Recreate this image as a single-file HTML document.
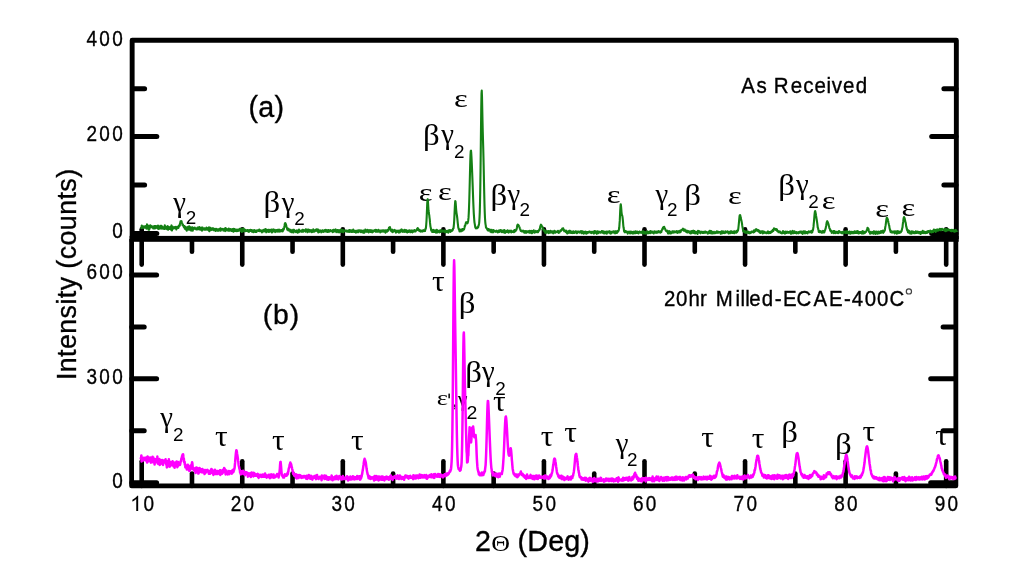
<!DOCTYPE html>
<html><head><meta charset="utf-8"><style>html,body{margin:0;padding:0;background:#fff;overflow:hidden}svg{display:block;filter:blur(0.4px)}</style></head>
<body><svg width="1024" height="574" viewBox="0 0 1024 574">
<rect width="1024" height="574" fill="#fff"/>
<path d="M132.15,239 V40.25 H956.35 V239" fill="none" stroke="#000" stroke-width="4.9" stroke-linejoin="round"/>
<path d="M131.6,239 V485.9 H955.85 V239" fill="none" stroke="#000" stroke-width="4.8" stroke-linejoin="round"/>
<rect x="129.6" y="235.9" width="829.1" height="5.900000000000006" fill="#000"/>
<line x1="132.5" y1="88.65" x2="144.6" y2="88.65" stroke="#000" stroke-width="5" stroke-linecap="round"/>
<line x1="956" y1="88.65" x2="943.9" y2="88.65" stroke="#000" stroke-width="5" stroke-linecap="round"/>
<line x1="132.5" y1="136.6" x2="156.8" y2="136.6" stroke="#000" stroke-width="5" stroke-linecap="round"/>
<line x1="956" y1="136.6" x2="931.7" y2="136.6" stroke="#000" stroke-width="5" stroke-linecap="round"/>
<line x1="132.5" y1="185" x2="144.6" y2="185" stroke="#000" stroke-width="5" stroke-linecap="round"/>
<line x1="956" y1="185" x2="943.9" y2="185" stroke="#000" stroke-width="5" stroke-linecap="round"/>
<line x1="132.5" y1="233.55" x2="156.8" y2="233.55" stroke="#000" stroke-width="5" stroke-linecap="round"/>
<line x1="956" y1="233.55" x2="931.7" y2="233.55" stroke="#000" stroke-width="5" stroke-linecap="round"/>
<line x1="131.8" y1="274.9" x2="156.60000000000002" y2="274.9" stroke="#000" stroke-width="5" stroke-linecap="round"/>
<line x1="955.5" y1="274.9" x2="930.7" y2="274.9" stroke="#000" stroke-width="5" stroke-linecap="round"/>
<line x1="131.8" y1="326.9" x2="144.20000000000002" y2="326.9" stroke="#000" stroke-width="5" stroke-linecap="round"/>
<line x1="955.5" y1="326.9" x2="943.1" y2="326.9" stroke="#000" stroke-width="5" stroke-linecap="round"/>
<line x1="131.8" y1="378.85" x2="156.60000000000002" y2="378.85" stroke="#000" stroke-width="5" stroke-linecap="round"/>
<line x1="955.5" y1="378.85" x2="930.7" y2="378.85" stroke="#000" stroke-width="5" stroke-linecap="round"/>
<line x1="131.8" y1="430.8" x2="144.20000000000002" y2="430.8" stroke="#000" stroke-width="5" stroke-linecap="round"/>
<line x1="955.5" y1="430.8" x2="943.1" y2="430.8" stroke="#000" stroke-width="5" stroke-linecap="round"/>
<line x1="131.8" y1="482.8" x2="156.60000000000002" y2="482.8" stroke="#000" stroke-width="5" stroke-linecap="round"/>
<line x1="955.5" y1="482.8" x2="930.7" y2="482.8" stroke="#000" stroke-width="5" stroke-linecap="round"/>
<line x1="141.7" y1="229.2" x2="141.7" y2="264.6" stroke="#000" stroke-width="4.6" stroke-linecap="round"/>
<line x1="141.7" y1="486" x2="141.7" y2="461.2" stroke="#000" stroke-width="4.6" stroke-linecap="round"/>
<line x1="191.98" y1="240" x2="191.98" y2="251.7" stroke="#000" stroke-width="4.6" stroke-linecap="round"/>
<line x1="191.98" y1="486" x2="191.98" y2="473.5" stroke="#000" stroke-width="4.6" stroke-linecap="round"/>
<line x1="242.26" y1="229.2" x2="242.26" y2="264.6" stroke="#000" stroke-width="4.6" stroke-linecap="round"/>
<line x1="242.26" y1="486" x2="242.26" y2="461.2" stroke="#000" stroke-width="4.6" stroke-linecap="round"/>
<line x1="292.53999999999996" y1="240" x2="292.53999999999996" y2="251.7" stroke="#000" stroke-width="4.6" stroke-linecap="round"/>
<line x1="292.53999999999996" y1="486" x2="292.53999999999996" y2="473.5" stroke="#000" stroke-width="4.6" stroke-linecap="round"/>
<line x1="342.81999999999994" y1="229.2" x2="342.81999999999994" y2="264.6" stroke="#000" stroke-width="4.6" stroke-linecap="round"/>
<line x1="342.81999999999994" y1="486" x2="342.81999999999994" y2="461.2" stroke="#000" stroke-width="4.6" stroke-linecap="round"/>
<line x1="393.09999999999997" y1="240" x2="393.09999999999997" y2="251.7" stroke="#000" stroke-width="4.6" stroke-linecap="round"/>
<line x1="393.09999999999997" y1="486" x2="393.09999999999997" y2="473.5" stroke="#000" stroke-width="4.6" stroke-linecap="round"/>
<line x1="443.37999999999994" y1="229.2" x2="443.37999999999994" y2="264.6" stroke="#000" stroke-width="4.6" stroke-linecap="round"/>
<line x1="443.37999999999994" y1="486" x2="443.37999999999994" y2="461.2" stroke="#000" stroke-width="4.6" stroke-linecap="round"/>
<line x1="493.65999999999997" y1="240" x2="493.65999999999997" y2="251.7" stroke="#000" stroke-width="4.6" stroke-linecap="round"/>
<line x1="493.65999999999997" y1="486" x2="493.65999999999997" y2="473.5" stroke="#000" stroke-width="4.6" stroke-linecap="round"/>
<line x1="543.9399999999999" y1="229.2" x2="543.9399999999999" y2="264.6" stroke="#000" stroke-width="4.6" stroke-linecap="round"/>
<line x1="543.9399999999999" y1="486" x2="543.9399999999999" y2="461.2" stroke="#000" stroke-width="4.6" stroke-linecap="round"/>
<line x1="594.22" y1="240" x2="594.22" y2="251.7" stroke="#000" stroke-width="4.6" stroke-linecap="round"/>
<line x1="594.22" y1="486" x2="594.22" y2="473.5" stroke="#000" stroke-width="4.6" stroke-linecap="round"/>
<line x1="644.5" y1="229.2" x2="644.5" y2="264.6" stroke="#000" stroke-width="4.6" stroke-linecap="round"/>
<line x1="644.5" y1="486" x2="644.5" y2="461.2" stroke="#000" stroke-width="4.6" stroke-linecap="round"/>
<line x1="694.78" y1="240" x2="694.78" y2="251.7" stroke="#000" stroke-width="4.6" stroke-linecap="round"/>
<line x1="694.78" y1="486" x2="694.78" y2="473.5" stroke="#000" stroke-width="4.6" stroke-linecap="round"/>
<line x1="745.06" y1="229.2" x2="745.06" y2="264.6" stroke="#000" stroke-width="4.6" stroke-linecap="round"/>
<line x1="745.06" y1="486" x2="745.06" y2="461.2" stroke="#000" stroke-width="4.6" stroke-linecap="round"/>
<line x1="795.3399999999999" y1="240" x2="795.3399999999999" y2="251.7" stroke="#000" stroke-width="4.6" stroke-linecap="round"/>
<line x1="795.3399999999999" y1="486" x2="795.3399999999999" y2="473.5" stroke="#000" stroke-width="4.6" stroke-linecap="round"/>
<line x1="845.6199999999999" y1="229.2" x2="845.6199999999999" y2="264.6" stroke="#000" stroke-width="4.6" stroke-linecap="round"/>
<line x1="845.6199999999999" y1="486" x2="845.6199999999999" y2="461.2" stroke="#000" stroke-width="4.6" stroke-linecap="round"/>
<line x1="895.8999999999999" y1="240" x2="895.8999999999999" y2="251.7" stroke="#000" stroke-width="4.6" stroke-linecap="round"/>
<line x1="895.8999999999999" y1="486" x2="895.8999999999999" y2="473.5" stroke="#000" stroke-width="4.6" stroke-linecap="round"/>
<line x1="946.1799999999998" y1="229.2" x2="946.1799999999998" y2="264.6" stroke="#000" stroke-width="4.6" stroke-linecap="round"/>
<line x1="946.1799999999998" y1="486" x2="946.1799999999998" y2="461.2" stroke="#000" stroke-width="4.6" stroke-linecap="round"/>
<text transform="translate(86.40,45.60) scale(0.87,1)" font-family="Liberation Sans" font-size="21.8" letter-spacing="2.7" stroke="#000" stroke-width="0.35">400</text>
<text transform="translate(86.40,141.25) scale(0.87,1)" font-family="Liberation Sans" font-size="21.8" letter-spacing="2.7" stroke="#000" stroke-width="0.35">200</text>
<text transform="translate(112.19,237.75) scale(0.87,1)" font-family="Liberation Sans" font-size="21.8" letter-spacing="2.7" stroke="#000" stroke-width="0.35">0</text>
<text transform="translate(86.40,279.25) scale(0.87,1)" font-family="Liberation Sans" font-size="21.8" letter-spacing="2.7" stroke="#000" stroke-width="0.35">600</text>
<text transform="translate(86.40,383.90) scale(0.87,1)" font-family="Liberation Sans" font-size="21.8" letter-spacing="2.7" stroke="#000" stroke-width="0.35">300</text>
<text transform="translate(112.19,488.25) scale(0.87,1)" font-family="Liberation Sans" font-size="21.8" letter-spacing="2.7" stroke="#000" stroke-width="0.35">0</text>
<text transform="translate(230.73,510.90) scale(0.87,1)" font-family="Liberation Sans" font-size="21.8" letter-spacing="2.7" stroke="#000" stroke-width="0.35">20</text>
<text transform="translate(331.41,510.90) scale(0.87,1)" font-family="Liberation Sans" font-size="21.8" letter-spacing="2.7" stroke="#000" stroke-width="0.35">30</text>
<text transform="translate(432.11,510.90) scale(0.87,1)" font-family="Liberation Sans" font-size="21.8" letter-spacing="2.7" stroke="#000" stroke-width="0.35">40</text>
<text transform="translate(532.51,510.90) scale(0.87,1)" font-family="Liberation Sans" font-size="21.8" letter-spacing="2.7" stroke="#000" stroke-width="0.35">50</text>
<text transform="translate(632.97,510.90) scale(0.87,1)" font-family="Liberation Sans" font-size="21.8" letter-spacing="2.7" stroke="#000" stroke-width="0.35">60</text>
<text transform="translate(733.52,510.90) scale(0.87,1)" font-family="Liberation Sans" font-size="21.8" letter-spacing="2.7" stroke="#000" stroke-width="0.35">70</text>
<text transform="translate(834.16,510.90) scale(0.87,1)" font-family="Liberation Sans" font-size="21.8" letter-spacing="2.7" stroke="#000" stroke-width="0.35">80</text>
<text transform="translate(934.68,510.90) scale(0.87,1)" font-family="Liberation Sans" font-size="21.8" letter-spacing="2.7" stroke="#000" stroke-width="0.35">90</text>
<path transform="translate(130.01,510.90) scale(0.0107,-0.01064)" d="M763,0 H583 V1110 C520,1052 437,994 333,936 C270,901 223,883 223,883 V1050 C330,1099 424,1158 504,1228 C584,1297 641,1365 674,1430 H763 Z" fill="#000"/>
<text transform="translate(143.56,510.90) scale(0.87,1)" font-family="Liberation Sans" font-size="21.8" letter-spacing="2.7" stroke="#000" stroke-width="0.35">0</text>
<text transform="translate(76.3,380.1) rotate(-90)" font-family="Liberation Sans" font-size="26.8" letter-spacing="0.42" stroke="#000" stroke-width="0.35">Intensity (counts)</text>
<text x="474.97" y="551.00" font-family="Liberation Sans" font-size="28.60" letter-spacing="0.00" stroke="#000" stroke-width="0.35" >2</text>
<g transform="translate(492.2,551.3) scale(1.12,1)"><text x="-0.95" y="0" font-family="Liberation Serif" font-size="23.2">&#920;</text></g>
<text x="517.62" y="551.33" font-family="Liberation Sans" font-size="28.75" letter-spacing="0.09" stroke="#000" stroke-width="0.35" >(Deg)</text>
<text x="248.42" y="116.77" font-family="Liberation Sans" font-size="28.66" letter-spacing="0.31" stroke="#000" stroke-width="0.35" >(a)</text>
<text x="262.84" y="323.93" font-family="Liberation Sans" font-size="28.34" letter-spacing="0.84" stroke="#000" stroke-width="0.35" >(b)</text>
<text transform="scale(0.97,1)" x="764.29 779.93 797.75 815.18 827.97 839.61 852.19 857.45 869.20 882.20" y="92.95" font-family="Liberation Sans" font-size="21.20" stroke="#000" stroke-width="0.35">AsReceived</text>
<text transform="scale(0.95,1)" x="699.02 711.58 724.83 736.89 753.39 774.14 779.60 784.55 788.77 801.94 815.47 824.13 838.38 856.38 872.76 888.31 896.56 910.32 923.16 936.38" y="306.50" font-family="Liberation Sans" font-size="21.50" stroke="#000" stroke-width="0.35">20hrMilled-ECAE-400C</text>
<circle cx="908.9" cy="291.4" r="2.6" fill="none" stroke="#444" stroke-width="1.2"/>
<g transform="translate(173.34,211.50) scale(0.4797,0.4812)"><text font-family="Liberation Serif" font-size="60">γ</text></g>
<g transform="translate(185.85,224.25) scale(0.3146,0.3151)"><text font-family="Liberation Sans" font-size="60">2</text></g>
<g transform="translate(263.48,212.08) scale(0.5475,0.4907)"><text font-family="Liberation Serif" font-size="60">β</text></g>
<g transform="translate(281.64,211.65) scale(0.4797,0.4812)"><text font-family="Liberation Serif" font-size="60">γ</text></g>
<g transform="translate(294.20,224.95) scale(0.3146,0.3151)"><text font-family="Liberation Sans" font-size="60">2</text></g>
<g transform="translate(418.79,201.20) scale(0.5437,0.4297)"><text font-family="Liberation Serif" font-size="60">ε</text></g>
<g transform="translate(437.99,200.25) scale(0.5437,0.4297)"><text font-family="Liberation Serif" font-size="60">ε</text></g>
<g transform="translate(423.03,144.88) scale(0.5475,0.4907)"><text font-family="Liberation Serif" font-size="60">β</text></g>
<g transform="translate(441.19,144.25) scale(0.4797,0.4812)"><text font-family="Liberation Serif" font-size="60">γ</text></g>
<g transform="translate(453.95,157.95) scale(0.3146,0.3151)"><text font-family="Liberation Sans" font-size="60">2</text></g>
<g transform="translate(453.89,106.85) scale(0.5437,0.4297)"><text font-family="Liberation Serif" font-size="60">ε</text></g>
<g transform="translate(490.58,204.68) scale(0.5475,0.4907)"><text font-family="Liberation Serif" font-size="60">β</text></g>
<g transform="translate(507.59,204.15) scale(0.4797,0.4812)"><text font-family="Liberation Serif" font-size="60">γ</text></g>
<g transform="translate(519.40,215.80) scale(0.3146,0.3151)"><text font-family="Liberation Sans" font-size="60">2</text></g>
<g transform="translate(606.79,202.90) scale(0.5437,0.4297)"><text font-family="Liberation Serif" font-size="60">ε</text></g>
<g transform="translate(655.59,203.75) scale(0.4797,0.4812)"><text font-family="Liberation Serif" font-size="60">γ</text></g>
<g transform="translate(667.10,215.95) scale(0.3146,0.3151)"><text font-family="Liberation Sans" font-size="60">2</text></g>
<g transform="translate(684.28,204.53) scale(0.5475,0.4907)"><text font-family="Liberation Serif" font-size="60">β</text></g>
<g transform="translate(727.99,203.60) scale(0.5437,0.4297)"><text font-family="Liberation Serif" font-size="60">ε</text></g>
<g transform="translate(778.13,194.73) scale(0.5475,0.4907)"><text font-family="Liberation Serif" font-size="60">β</text></g>
<g transform="translate(795.89,194.35) scale(0.4797,0.4812)"><text font-family="Liberation Serif" font-size="60">γ</text></g>
<g transform="translate(808.20,207.85) scale(0.3146,0.3151)"><text font-family="Liberation Sans" font-size="60">2</text></g>
<g transform="translate(821.64,208.55) scale(0.5437,0.4297)"><text font-family="Liberation Serif" font-size="60">ε</text></g>
<g transform="translate(875.29,217.10) scale(0.5437,0.4297)"><text font-family="Liberation Serif" font-size="60">ε</text></g>
<g transform="translate(901.59,215.50) scale(0.5437,0.4297)"><text font-family="Liberation Serif" font-size="60">ε</text></g>
<g transform="translate(160.29,427.15) scale(0.4797,0.4812)"><text font-family="Liberation Serif" font-size="60">γ</text></g>
<g transform="translate(172.95,441.00) scale(0.3146,0.3151)"><text font-family="Liberation Sans" font-size="60">2</text></g>
<g transform="translate(215.06,446.16) scale(0.5262,0.4871)"><text font-family="Liberation Serif" font-size="60">τ</text></g>
<g transform="translate(272.01,450.36) scale(0.5262,0.4871)"><text font-family="Liberation Serif" font-size="60">τ</text></g>
<g transform="translate(351.06,450.36) scale(0.5262,0.4871)"><text font-family="Liberation Serif" font-size="60">τ</text></g>
<g transform="translate(431.91,291.06) scale(0.5262,0.4871)"><text font-family="Liberation Serif" font-size="60">τ</text></g>
<g transform="translate(458.73,312.93) scale(0.5475,0.4907)"><text font-family="Liberation Serif" font-size="60">β</text></g>
<g transform="translate(465.28,381.63) scale(0.5475,0.4907)"><text font-family="Liberation Serif" font-size="60">β</text></g>
<g transform="translate(481.94,381.00) scale(0.4797,0.4812)"><text font-family="Liberation Serif" font-size="60">γ</text></g>
<g transform="translate(495.30,394.70) scale(0.3146,0.3151)"><text font-family="Liberation Sans" font-size="60">2</text></g>
<g transform="translate(492.91,411.16) scale(0.5262,0.4871)"><text font-family="Liberation Serif" font-size="60">τ</text></g>
<g transform="translate(540.81,446.16) scale(0.5262,0.4871)"><text font-family="Liberation Serif" font-size="60">τ</text></g>
<g transform="translate(564.31,441.81) scale(0.5262,0.4871)"><text font-family="Liberation Serif" font-size="60">τ</text></g>
<g transform="translate(615.64,453.35) scale(0.4797,0.4812)"><text font-family="Liberation Serif" font-size="60">γ</text></g>
<g transform="translate(627.00,466.20) scale(0.3146,0.3151)"><text font-family="Liberation Sans" font-size="60">2</text></g>
<g transform="translate(701.16,446.91) scale(0.5262,0.4871)"><text font-family="Liberation Serif" font-size="60">τ</text></g>
<g transform="translate(751.76,448.11) scale(0.5262,0.4871)"><text font-family="Liberation Serif" font-size="60">τ</text></g>
<g transform="translate(781.18,442.13) scale(0.5475,0.4907)"><text font-family="Liberation Serif" font-size="60">β</text></g>
<g transform="translate(834.93,453.53) scale(0.5475,0.4907)"><text font-family="Liberation Serif" font-size="60">β</text></g>
<g transform="translate(862.56,441.46) scale(0.5262,0.4871)"><text font-family="Liberation Serif" font-size="60">τ</text></g>
<g transform="translate(935.16,444.61) scale(0.5262,0.4871)"><text font-family="Liberation Serif" font-size="60">τ</text></g>
<g transform="translate(436.77,405.40) scale(0.4444,0.3431)"><text font-family="Liberation Serif" font-size="60">ε</text></g>
<g transform="translate(457.73,405.67) scale(0.3727,0.3622)"><text font-family="Liberation Serif" font-size="60">γ</text></g>
<g transform="translate(466.62,419.20) scale(0.3256,0.3127)"><text font-family="Liberation Sans" font-size="60">2</text></g>
<rect x="448.4" y="393.6" width="1.5" height="4.7" fill="#000"/>
<path d="M454.2,404.6 h1.6 v2.2 q0,1.8 -1.5,2.6 l-0.4,-0.5 q0.9,-0.6 0.9,-1.9 h-0.6z" fill="#000"/>
<polyline points="141.00,227.4 141.25,228.0 141.50,227.4 141.75,225.5 142.00,228.1 142.25,227.6 142.50,226.4 142.75,227.7 143.00,227.5 143.25,227.4 143.50,227.1 143.75,227.7 144.00,226.2 144.25,226.9 144.50,226.5 144.75,227.8 145.00,227.1 145.25,226.7 145.50,226.2 145.75,226.8 146.00,227.1 146.25,226.8 146.50,228.6 146.75,228.3 147.00,224.4 147.25,224.9 147.50,226.9 147.75,226.6 148.00,227.4 148.25,227.4 148.50,229.7 148.75,225.9 149.00,226.7 149.25,229.6 149.50,227.9 149.75,228.0 150.00,226.6 150.25,225.3 150.50,227.4 150.75,227.3 151.00,225.8 151.25,226.4 151.50,227.2 151.75,226.2 152.00,227.2 152.25,227.4 152.50,227.3 152.75,226.7 153.00,228.0 153.25,228.4 153.50,227.7 153.75,226.4 154.00,228.2 154.25,226.8 154.50,228.4 154.75,226.1 155.00,228.5 155.25,227.4 155.50,226.0 155.75,227.1 156.00,227.5 156.25,227.8 156.50,226.3 156.75,226.2 157.00,227.7 157.25,226.9 157.50,227.8 157.75,228.4 158.00,225.6 158.25,227.8 158.50,228.9 158.75,227.2 159.00,226.6 159.25,228.4 159.50,227.9 159.75,228.6 160.00,227.2 160.25,225.9 160.50,227.5 160.75,227.1 161.00,228.5 161.25,227.9 161.50,225.8 161.75,226.3 162.00,228.7 162.25,228.4 162.50,226.9 162.75,227.7 163.00,228.2 163.25,228.2 163.50,228.7 163.75,228.0 164.00,227.6 164.25,227.4 164.50,229.0 164.75,225.2 165.00,227.6 165.25,227.8 165.50,226.2 165.75,228.2 166.00,227.1 166.25,228.8 166.50,227.7 166.75,228.6 167.00,229.2 167.25,228.3 167.50,226.9 167.75,226.2 168.00,229.8 168.25,227.8 168.50,227.1 168.75,228.1 169.00,227.7 169.25,228.9 169.50,228.0 169.75,228.0 170.00,227.1 170.25,228.5 170.50,226.8 170.75,228.7 171.00,229.7 171.25,226.3 171.50,225.4 171.75,228.7 172.00,230.5 172.25,226.9 172.50,226.6 172.75,228.6 173.00,227.1 173.25,227.4 173.50,227.6 173.75,228.6 174.00,227.6 174.25,228.3 174.50,227.8 174.75,227.1 175.00,227.6 175.25,227.0 175.50,228.0 175.75,226.8 176.00,226.8 176.25,229.5 176.50,227.9 176.75,227.8 177.00,228.4 177.25,227.4 177.50,227.5 177.75,228.1 178.00,227.8 178.25,226.2 178.50,227.9 178.75,226.3 179.00,225.5 179.25,225.2 179.50,225.1 179.75,225.8 180.00,223.3 180.25,223.4 180.50,221.4 180.75,222.0 181.00,222.0 181.25,221.3 181.50,221.2 181.75,222.0 182.00,222.8 182.25,223.4 182.50,225.0 182.75,224.7 183.00,224.8 183.25,225.7 183.50,226.3 183.75,226.9 184.00,227.1 184.25,227.6 184.50,226.1 184.75,228.6 185.00,227.4 185.25,226.9 185.50,228.8 185.75,229.5 186.00,228.7 186.25,228.4 186.50,227.4 186.75,230.7 187.00,229.3 187.25,227.2 187.50,227.6 187.75,228.5 188.00,226.9 188.25,228.6 188.50,228.0 188.75,229.7 189.00,229.5 189.25,226.2 189.50,228.6 189.75,226.9 190.00,229.7 190.25,228.8 190.50,229.2 190.75,227.5 191.00,230.5 191.25,230.7 191.50,227.6 191.75,229.0 192.00,228.0 192.25,228.7 192.50,227.4 192.75,230.6 193.00,227.7 193.25,228.4 193.50,229.2 193.75,228.1 194.00,228.5 194.25,228.2 194.50,228.6 194.75,227.6 195.00,228.4 195.25,228.6 195.50,228.5 195.75,228.9 196.00,228.5 196.25,229.6 196.50,228.5 196.75,228.7 197.00,228.2 197.25,228.4 197.50,227.7 197.75,229.4 198.00,227.8 198.25,228.2 198.50,229.3 198.75,229.3 199.00,228.6 199.25,227.0 199.50,229.4 199.75,229.2 200.00,227.6 200.25,229.7 200.50,228.3 200.75,227.9 201.00,229.1 201.25,228.9 201.50,229.2 201.75,227.5 202.00,230.7 202.25,228.5 202.50,227.6 202.75,229.6 203.00,228.7 203.25,229.4 203.50,228.8 203.75,229.0 204.00,229.3 204.25,228.4 204.50,229.7 204.75,228.7 205.00,228.4 205.25,229.2 205.50,229.6 205.75,229.0 206.00,228.4 206.25,229.7 206.50,227.6 206.75,228.3 207.00,229.2 207.25,228.0 207.50,229.3 207.75,229.2 208.00,230.0 208.25,228.4 208.50,228.7 208.75,229.6 209.00,227.3 209.25,231.3 209.50,228.7 209.75,228.7 210.00,230.1 210.25,229.3 210.50,227.8 210.75,229.9 211.00,230.1 211.25,229.0 211.50,229.1 211.75,229.8 212.00,228.6 212.25,229.8 212.50,229.6 212.75,228.8 213.00,228.2 213.25,229.2 213.50,228.7 213.75,230.3 214.00,229.6 214.25,230.1 214.50,229.6 214.75,229.7 215.00,228.8 215.25,230.0 215.50,231.0 215.75,229.2 216.00,229.0 216.25,229.4 216.50,229.1 216.75,228.9 217.00,229.6 217.25,229.3 217.50,230.7 217.75,229.6 218.00,229.8 218.25,230.3 218.50,229.3 218.75,230.8 219.00,229.1 219.25,229.0 219.50,229.3 219.75,229.5 220.00,228.5 220.25,229.6 220.50,228.3 220.75,230.8 221.00,229.6 221.25,229.2 221.50,229.0 221.75,229.4 222.00,229.5 222.25,228.9 222.50,229.0 222.75,229.6 223.00,229.3 223.25,230.5 223.50,230.6 223.75,229.8 224.00,230.1 224.25,228.7 224.50,230.3 224.75,229.8 225.00,230.2 225.25,231.1 225.50,228.0 225.75,230.0 226.00,229.0 226.25,230.3 226.50,228.8 226.75,229.5 227.00,230.0 227.25,230.4 227.50,229.9 227.75,229.3 228.00,229.5 228.25,230.6 228.50,229.9 228.75,228.6 229.00,230.6 229.25,230.3 229.50,230.6 229.75,229.7 230.00,230.6 230.25,229.1 230.50,230.4 230.75,229.6 231.00,230.5 231.25,230.8 231.50,229.4 231.75,230.0 232.00,230.0 232.25,231.0 232.50,230.6 232.75,229.1 233.00,230.4 233.25,230.6 233.50,231.7 233.75,228.8 234.00,229.7 234.25,231.1 234.50,229.0 234.75,229.2 235.00,230.5 235.25,230.9 235.50,229.6 235.75,230.6 236.00,230.2 236.25,231.3 236.50,230.2 236.75,230.9 237.00,229.5 237.25,230.0 237.50,230.1 237.75,231.1 238.00,230.7 238.25,229.6 238.50,230.8 238.75,230.8 239.00,230.2 239.25,230.0 239.50,230.1 239.75,228.9 240.00,230.4 240.25,230.5 240.50,229.6 240.75,230.9 241.00,229.2 241.25,229.9 241.50,230.0 241.75,231.9 242.00,229.1 242.25,230.8 242.50,231.1 242.75,230.7 243.00,231.3 243.25,229.6 243.50,228.6 243.75,231.0 244.00,229.5 244.25,230.2 244.50,229.5 244.75,231.2 245.00,231.1 245.25,229.9 245.50,231.1 245.75,230.6 246.00,230.4 246.25,230.5 246.50,230.3 246.75,231.0 247.00,230.7 247.25,230.2 247.50,231.3 247.75,230.0 248.00,230.7 248.25,230.9 248.50,231.7 248.75,230.2 249.00,231.9 249.25,230.7 249.50,230.4 249.75,230.1 250.00,231.0 250.25,230.6 250.50,229.7 250.75,229.7 251.00,230.2 251.25,230.1 251.50,231.4 251.75,231.7 252.00,231.3 252.25,230.9 252.50,230.3 252.75,230.7 253.00,231.3 253.25,232.2 253.50,231.3 253.75,230.4 254.00,230.7 254.25,230.3 254.50,230.0 254.75,230.5 255.00,230.8 255.25,232.0 255.50,230.7 255.75,231.7 256.00,232.0 256.25,230.7 256.50,231.9 256.75,231.2 257.00,230.3 257.25,230.8 257.50,230.7 257.75,230.5 258.00,230.5 258.25,230.8 258.50,231.0 258.75,230.0 259.00,230.7 259.25,229.5 259.50,230.9 259.75,231.1 260.00,230.8 260.25,230.9 260.50,231.1 260.75,230.2 261.00,230.5 261.25,231.1 261.50,231.4 261.75,231.0 262.00,232.4 262.25,230.6 262.50,231.4 262.75,231.6 263.00,230.6 263.25,230.1 263.50,229.8 263.75,230.8 264.00,231.5 264.25,230.9 264.50,230.8 264.75,230.4 265.00,231.1 265.25,229.1 265.50,230.9 265.75,230.7 266.00,229.7 266.25,232.3 266.50,229.7 266.75,229.9 267.00,229.8 267.25,231.6 267.50,230.1 267.75,231.2 268.00,231.2 268.25,230.9 268.50,229.7 268.75,230.3 269.00,232.0 269.25,229.8 269.50,230.1 269.75,230.6 270.00,231.3 270.25,230.9 270.50,231.3 270.75,229.9 271.00,231.4 271.25,231.2 271.50,229.6 271.75,231.9 272.00,232.5 272.25,230.2 272.50,230.8 272.75,231.8 273.00,229.7 273.25,229.3 273.50,229.8 273.75,230.3 274.00,230.3 274.25,231.2 274.50,231.0 274.75,229.8 275.00,231.2 275.25,232.1 275.50,231.6 275.75,231.5 276.00,230.8 276.25,231.5 276.50,230.0 276.75,231.3 277.00,230.7 277.25,231.6 277.50,231.1 277.75,229.9 278.00,230.8 278.25,231.6 278.50,229.9 278.75,230.3 279.00,230.2 279.25,229.6 279.50,231.4 279.75,231.7 280.00,231.3 280.25,230.9 280.50,230.6 280.75,230.8 281.00,230.1 281.25,231.2 281.50,231.3 281.75,231.2 282.00,230.1 282.25,230.5 282.50,230.2 282.75,231.4 283.00,230.1 283.25,228.5 283.50,229.4 283.75,229.6 284.00,228.1 284.25,227.3 284.50,225.9 284.75,224.1 285.00,223.3 285.25,223.0 285.50,223.3 285.75,223.9 286.00,224.9 286.25,225.5 286.50,227.1 286.75,227.5 287.00,228.1 287.25,229.6 287.50,229.1 287.75,228.5 288.00,229.5 288.25,230.4 288.50,228.9 288.75,230.3 289.00,230.4 289.25,229.6 289.50,229.6 289.75,230.4 290.00,230.3 290.25,231.6 290.50,231.0 290.75,229.7 291.00,230.2 291.25,231.3 291.50,232.2 291.75,231.1 292.00,231.1 292.25,232.2 292.50,230.8 292.75,230.6 293.00,229.9 293.25,230.5 293.50,232.4 293.75,229.9 294.00,230.9 294.25,229.9 294.50,231.0 294.75,231.5 295.00,230.7 295.25,231.4 295.50,231.4 295.75,231.2 296.00,232.2 296.25,231.5 296.50,230.7 296.75,230.4 297.00,230.3 297.25,231.3 297.50,230.7 297.75,232.6 298.00,232.3 298.25,230.8 298.50,230.7 298.75,232.2 299.00,229.6 299.25,230.6 299.50,231.7 299.75,230.3 300.00,230.6 300.25,230.7 300.50,231.5 300.75,231.1 301.00,231.3 301.25,231.4 301.50,231.0 301.75,231.8 302.00,230.5 302.25,230.0 302.50,229.7 302.75,229.8 303.00,230.6 303.25,231.7 303.50,231.1 303.75,230.6 304.00,230.2 304.25,230.6 304.50,230.7 304.75,230.6 305.00,230.0 305.25,230.7 305.50,231.7 305.75,229.4 306.00,230.8 306.25,229.5 306.50,231.1 306.75,230.5 307.00,229.5 307.25,231.1 307.50,232.3 307.75,231.1 308.00,231.8 308.25,231.0 308.50,229.5 308.75,231.4 309.00,230.7 309.25,230.0 309.50,231.6 309.75,231.2 310.00,230.6 310.25,231.6 310.50,230.4 310.75,231.5 311.00,230.3 311.25,231.4 311.50,230.2 311.75,232.1 312.00,231.2 312.25,232.0 312.50,230.4 312.75,230.7 313.00,231.6 313.25,229.4 313.50,230.3 313.75,231.8 314.00,231.4 314.25,231.7 314.50,230.8 314.75,231.4 315.00,230.5 315.25,230.0 315.50,229.8 315.75,230.6 316.00,230.6 316.25,230.6 316.50,229.4 316.75,229.6 317.00,230.6 317.25,231.2 317.50,230.6 317.75,230.4 318.00,229.4 318.25,232.5 318.50,230.2 318.75,232.2 319.00,232.1 319.25,231.2 319.50,230.6 319.75,231.1 320.00,230.2 320.25,231.2 320.50,231.0 320.75,231.4 321.00,231.7 321.25,232.3 321.50,230.8 321.75,231.8 322.00,230.5 322.25,230.4 322.50,230.6 322.75,230.3 323.00,231.7 323.25,231.7 323.50,231.9 323.75,231.0 324.00,231.2 324.25,230.6 324.50,230.2 324.75,231.4 325.00,231.2 325.25,230.3 325.50,231.5 325.75,229.8 326.00,230.9 326.25,230.6 326.50,230.7 326.75,230.3 327.00,231.7 327.25,231.5 327.50,231.9 327.75,231.1 328.00,230.1 328.25,230.8 328.50,230.2 328.75,231.4 329.00,231.9 329.25,231.3 329.50,230.6 329.75,230.8 330.00,231.2 330.25,230.0 330.50,231.2 330.75,231.2 331.00,230.7 331.25,230.8 331.50,231.2 331.75,230.5 332.00,230.5 332.25,231.6 332.50,231.2 332.75,232.2 333.00,230.3 333.25,229.8 333.50,231.7 333.75,231.7 334.00,230.5 334.25,230.0 334.50,231.0 334.75,229.8 335.00,230.8 335.25,229.5 335.50,230.9 335.75,229.5 336.00,230.9 336.25,232.1 336.50,230.9 336.75,231.6 337.00,230.6 337.25,230.4 337.50,230.0 337.75,231.8 338.00,231.0 338.25,232.2 338.50,230.2 338.75,230.9 339.00,231.1 339.25,232.0 339.50,232.3 339.75,230.6 340.00,230.2 340.25,229.8 340.50,232.0 340.75,231.0 341.00,230.6 341.25,231.0 341.50,229.5 341.75,229.8 342.00,231.7 342.25,231.3 342.50,231.2 342.75,230.3 343.00,231.5 343.25,232.3 343.50,230.2 343.75,231.1 344.00,230.7 344.25,231.3 344.50,231.1 344.75,230.9 345.00,230.4 345.25,231.0 345.50,230.6 345.75,230.9 346.00,231.0 346.25,231.5 346.50,230.6 346.75,230.8 347.00,231.8 347.25,230.9 347.50,230.9 347.75,231.7 348.00,231.2 348.25,231.1 348.50,231.2 348.75,230.2 349.00,231.4 349.25,232.0 349.50,231.5 349.75,230.0 350.00,231.3 350.25,230.4 350.50,230.9 350.75,231.2 351.00,230.2 351.25,232.0 351.50,231.0 351.75,231.6 352.00,231.5 352.25,232.0 352.50,231.9 352.75,230.0 353.00,231.1 353.25,229.6 353.50,230.8 353.75,231.6 354.00,231.7 354.25,232.0 354.50,230.8 354.75,231.3 355.00,231.2 355.25,232.0 355.50,232.2 355.75,230.8 356.00,232.7 356.25,231.1 356.50,230.8 356.75,231.5 357.00,231.6 357.25,231.5 357.50,230.6 357.75,232.1 358.00,231.1 358.25,232.2 358.50,232.1 358.75,230.2 359.00,230.4 359.25,230.4 359.50,231.3 359.75,231.1 360.00,231.3 360.25,230.5 360.50,231.4 360.75,232.1 361.00,230.2 361.25,231.0 361.50,231.3 361.75,231.0 362.00,231.0 362.25,232.3 362.50,232.0 362.75,231.7 363.00,230.6 363.25,232.7 363.50,231.4 363.75,230.7 364.00,230.9 364.25,230.8 364.50,232.6 364.75,231.3 365.00,231.2 365.25,229.6 365.50,231.6 365.75,230.4 366.00,230.3 366.25,231.5 366.50,230.5 366.75,231.7 367.00,231.9 367.25,229.9 367.50,231.0 367.75,230.0 368.00,231.1 368.25,231.8 368.50,230.2 368.75,232.4 369.00,230.9 369.25,230.3 369.50,231.0 369.75,231.7 370.00,230.2 370.25,231.1 370.50,230.2 370.75,232.0 371.00,231.2 371.25,230.8 371.50,231.8 371.75,230.2 372.00,230.9 372.25,232.4 372.50,231.0 372.75,232.1 373.00,231.3 373.25,230.6 373.50,231.0 373.75,231.2 374.00,230.8 374.25,230.6 374.50,230.6 374.75,230.1 375.00,231.2 375.25,231.4 375.50,231.6 375.75,229.9 376.00,231.7 376.25,231.1 376.50,230.1 376.75,231.2 377.00,231.7 377.25,231.5 377.50,231.6 377.75,231.8 378.00,231.8 378.25,231.1 378.50,229.7 378.75,230.6 379.00,231.4 379.25,230.8 379.50,231.6 379.75,231.7 380.00,231.2 380.25,232.4 380.50,230.5 380.75,231.8 381.00,230.8 381.25,230.6 381.50,231.5 381.75,230.7 382.00,231.7 382.25,230.3 382.50,231.1 382.75,230.5 383.00,231.0 383.25,230.9 383.50,230.3 383.75,231.6 384.00,230.3 384.25,230.4 384.50,231.7 384.75,231.8 385.00,231.6 385.25,231.3 385.50,232.6 385.75,230.3 386.00,230.6 386.25,230.4 386.50,231.6 386.75,231.2 387.00,231.7 387.25,231.5 387.50,230.6 387.75,229.9 388.00,229.5 388.25,230.8 388.50,229.5 388.75,228.7 389.00,227.7 389.25,227.4 389.50,227.3 389.75,227.6 390.00,227.2 390.25,228.9 390.50,229.3 390.75,230.2 391.00,230.5 391.25,231.2 391.50,230.8 391.75,231.5 392.00,229.5 392.25,230.3 392.50,232.2 392.75,230.3 393.00,230.9 393.25,231.6 393.50,230.5 393.75,231.6 394.00,230.2 394.25,229.8 394.50,230.2 394.75,230.0 395.00,231.1 395.25,230.9 395.50,231.4 395.75,230.5 396.00,232.7 396.25,231.1 396.50,231.1 396.75,231.5 397.00,231.0 397.25,230.7 397.50,231.2 397.75,231.8 398.00,231.6 398.25,231.8 398.50,230.8 398.75,230.7 399.00,232.6 399.25,231.0 399.50,231.5 399.75,231.7 400.00,232.2 400.25,230.3 400.50,230.9 400.75,230.9 401.00,231.0 401.25,229.6 401.50,231.1 401.75,229.6 402.00,231.4 402.25,231.6 402.50,231.6 402.75,230.4 403.00,231.9 403.25,230.6 403.50,230.4 403.75,230.5 404.00,230.6 404.25,231.3 404.50,231.8 404.75,229.8 405.00,230.8 405.25,231.8 405.50,231.4 405.75,231.6 406.00,230.2 406.25,231.9 406.50,230.2 406.75,231.4 407.00,232.1 407.25,232.5 407.50,231.6 407.75,231.8 408.00,230.8 408.25,230.9 408.50,232.0 408.75,231.2 409.00,231.1 409.25,230.3 409.50,231.3 409.75,231.7 410.00,230.7 410.25,230.9 410.50,232.3 410.75,231.3 411.00,231.0 411.25,230.4 411.50,230.8 411.75,231.0 412.00,232.1 412.25,230.8 412.50,232.4 412.75,230.6 413.00,230.9 413.25,231.7 413.50,231.0 413.75,230.6 414.00,231.1 414.25,231.4 414.50,230.0 414.75,230.9 415.00,231.0 415.25,230.7 415.50,231.4 415.75,230.4 416.00,230.4 416.25,230.3 416.50,230.4 416.75,229.5 417.00,230.0 417.25,228.5 417.50,229.2 417.75,228.1 418.00,228.5 418.25,228.9 418.50,230.1 418.75,229.9 419.00,229.6 419.25,230.9 419.50,230.3 419.75,230.2 420.00,231.1 420.25,230.9 420.50,231.6 420.75,230.6 421.00,231.2 421.25,231.4 421.50,231.2 421.75,231.0 422.00,230.5 422.25,231.6 422.50,231.0 422.75,231.2 423.00,230.7 423.25,230.9 423.50,230.2 423.75,230.8 424.00,231.2 424.25,230.7 424.50,231.0 424.75,230.6 425.00,231.0 425.25,229.8 425.50,228.6 425.75,228.9 426.00,227.1 426.25,224.3 426.50,220.8 426.75,215.4 427.00,209.2 427.25,203.2 427.50,199.5 427.75,199.2 428.00,202.4 428.25,206.3 428.50,210.2 428.75,212.8 429.00,213.9 429.25,215.1 429.50,217.6 429.75,219.3 430.00,222.7 430.25,224.8 430.50,226.8 430.75,227.7 431.00,229.0 431.25,230.5 431.50,229.5 431.75,230.9 432.00,230.8 432.25,232.0 432.50,230.5 432.75,231.7 433.00,231.5 433.25,230.8 433.50,229.9 433.75,232.0 434.00,230.2 434.25,230.8 434.50,231.7 434.75,231.8 435.00,230.6 435.25,231.1 435.50,231.0 435.75,231.9 436.00,232.7 436.25,230.0 436.50,231.8 436.75,229.7 437.00,231.2 437.25,230.5 437.50,232.5 437.75,231.3 438.00,230.7 438.25,230.9 438.50,230.9 438.75,231.4 439.00,231.1 439.25,231.7 439.50,232.3 439.75,231.7 440.00,230.4 440.25,230.2 440.50,230.8 440.75,231.9 441.00,231.0 441.25,230.8 441.50,231.3 441.75,230.3 442.00,230.5 442.25,231.6 442.50,231.0 442.75,230.9 443.00,231.5 443.25,230.9 443.50,230.8 443.75,230.9 444.00,231.6 444.25,231.3 444.50,230.5 444.75,231.0 445.00,231.6 445.25,232.4 445.50,230.5 445.75,231.4 446.00,231.0 446.25,231.7 446.50,231.5 446.75,232.1 447.00,231.5 447.25,230.8 447.50,230.8 447.75,231.4 448.00,231.4 448.25,232.6 448.50,232.2 448.75,230.3 449.00,231.3 449.25,230.2 449.50,230.0 449.75,231.5 450.00,231.3 450.25,230.3 450.50,231.9 450.75,230.3 451.00,230.1 451.25,231.2 451.50,230.8 451.75,230.5 452.00,230.5 452.25,230.6 452.50,230.2 452.75,230.0 453.00,228.7 453.25,228.4 453.50,228.3 453.75,225.9 454.00,223.5 454.25,219.6 454.50,214.1 454.75,208.7 455.00,204.0 455.25,201.1 455.50,201.4 455.75,204.1 456.00,207.5 456.25,210.6 456.50,212.8 456.75,214.3 457.00,216.0 457.25,218.0 457.50,220.3 457.75,223.1 458.00,225.0 458.25,227.4 458.50,228.3 458.75,229.1 459.00,229.7 459.25,229.9 459.50,231.4 459.75,229.4 460.00,230.4 460.25,231.1 460.50,230.8 460.75,230.2 461.00,231.4 461.25,229.8 461.50,229.6 461.75,230.7 462.00,229.5 462.25,229.0 462.50,230.7 462.75,230.5 463.00,230.3 463.25,229.5 463.50,229.6 463.75,228.7 464.00,229.5 464.25,228.5 464.50,227.7 464.75,225.9 465.00,226.1 465.25,225.4 465.50,224.3 465.75,223.4 466.00,222.5 466.25,222.1 466.50,222.2 466.75,222.2 467.00,222.5 467.25,222.6 467.50,223.3 467.75,222.3 468.00,221.9 468.25,220.2 468.50,217.9 468.75,213.8 469.00,208.1 469.25,200.7 469.50,191.7 469.75,182.1 470.00,171.8 470.25,162.4 470.50,155.1 470.75,151.1 471.00,150.7 471.25,153.2 471.50,157.6 471.75,162.8 472.00,168.6 472.25,174.7 472.50,181.1 472.75,187.9 473.00,194.9 473.25,201.6 473.50,207.5 473.75,212.9 474.00,216.6 474.25,220.0 474.50,222.6 474.75,223.9 475.00,225.5 475.25,227.2 475.50,227.7 475.75,227.6 476.00,228.5 476.25,228.0 476.50,227.8 476.75,228.1 477.00,227.8 477.25,228.1 477.50,227.0 477.75,227.8 478.00,226.9 478.25,227.0 478.50,225.6 478.75,225.2 479.00,224.0 479.25,222.1 479.50,218.0 479.75,212.6 480.00,203.1 480.25,189.6 480.50,171.9 480.75,150.5 481.00,127.7 481.25,107.2 481.50,93.7 481.75,90.5 482.00,96.9 482.25,108.5 482.50,120.8 482.75,131.3 483.00,140.1 483.25,148.6 483.50,158.8 483.75,170.3 484.00,183.0 484.25,194.6 484.50,204.7 484.75,212.6 485.00,218.2 485.25,221.8 485.50,224.1 485.75,225.4 486.00,227.6 486.25,227.7 486.50,228.0 486.75,228.5 487.00,228.3 487.25,229.3 487.50,230.0 487.75,230.2 488.00,229.0 488.25,230.6 488.50,229.6 488.75,229.1 489.00,229.6 489.25,229.8 489.50,230.4 489.75,229.9 490.00,229.7 490.25,230.5 490.50,231.8 490.75,230.3 491.00,231.1 491.25,230.9 491.50,232.2 491.75,229.8 492.00,231.6 492.25,230.2 492.50,230.7 492.75,231.0 493.00,232.4 493.25,230.6 493.50,230.0 493.75,231.9 494.00,230.6 494.25,231.0 494.50,231.2 494.75,231.3 495.00,231.1 495.25,231.4 495.50,231.5 495.75,231.8 496.00,231.0 496.25,230.8 496.50,230.6 496.75,231.7 497.00,231.3 497.25,231.7 497.50,231.7 497.75,232.4 498.00,231.5 498.25,231.9 498.50,230.6 498.75,230.7 499.00,231.2 499.25,230.6 499.50,231.9 499.75,230.6 500.00,231.5 500.25,230.0 500.50,230.8 500.75,231.2 501.00,231.3 501.25,230.3 501.50,231.5 501.75,232.1 502.00,231.9 502.25,231.1 502.50,231.1 502.75,230.7 503.00,231.9 503.25,232.4 503.50,231.2 503.75,230.4 504.00,231.7 504.25,232.0 504.50,230.1 504.75,231.6 505.00,232.9 505.25,232.1 505.50,231.9 505.75,231.8 506.00,232.2 506.25,231.0 506.50,231.0 506.75,231.8 507.00,231.1 507.25,231.7 507.50,230.3 507.75,232.1 508.00,232.1 508.25,231.6 508.50,231.7 508.75,232.6 509.00,230.9 509.25,231.0 509.50,230.9 509.75,231.3 510.00,230.9 510.25,231.6 510.50,231.2 510.75,230.7 511.00,230.6 511.25,232.4 511.50,231.5 511.75,231.4 512.00,231.6 512.25,231.5 512.50,232.0 512.75,231.9 513.00,231.2 513.25,231.0 513.50,230.8 513.75,230.7 514.00,232.3 514.25,230.9 514.50,230.1 514.75,230.8 515.00,230.8 515.25,231.3 515.50,230.3 515.75,230.8 516.00,230.2 516.25,230.0 516.50,229.6 516.75,228.6 517.00,227.2 517.25,225.4 517.50,224.8 517.75,224.5 518.00,224.9 518.25,224.8 518.50,225.4 518.75,225.5 519.00,226.3 519.25,227.0 519.50,227.1 519.75,228.2 520.00,229.0 520.25,229.1 520.50,230.2 520.75,231.0 521.00,230.6 521.25,230.8 521.50,230.9 521.75,230.9 522.00,231.5 522.25,231.2 522.50,231.3 522.75,231.1 523.00,230.6 523.25,231.0 523.50,231.8 523.75,230.9 524.00,231.2 524.25,232.7 524.50,232.4 524.75,231.2 525.00,232.1 525.25,231.3 525.50,232.8 525.75,231.3 526.00,231.8 526.25,232.6 526.50,231.2 526.75,232.6 527.00,231.2 527.25,231.9 527.50,231.6 527.75,231.7 528.00,231.9 528.25,231.7 528.50,231.1 528.75,232.3 529.00,232.2 529.25,232.6 529.50,232.7 529.75,230.9 530.00,232.6 530.25,232.6 530.50,231.4 530.75,232.5 531.00,232.7 531.25,231.4 531.50,230.9 531.75,231.6 532.00,233.3 532.25,231.9 532.50,231.0 532.75,231.6 533.00,231.1 533.25,231.5 533.50,231.9 533.75,230.3 534.00,232.0 534.25,232.7 534.50,231.7 534.75,231.5 535.00,232.5 535.25,231.0 535.50,231.0 535.75,230.9 536.00,231.6 536.25,232.0 536.50,231.7 536.75,232.1 537.00,232.2 537.25,232.0 537.50,231.1 537.75,231.4 538.00,232.3 538.25,230.8 538.50,231.2 538.75,230.9 539.00,230.7 539.25,229.7 539.50,229.0 539.75,229.7 540.00,228.1 540.25,226.5 540.50,225.8 540.75,225.3 541.00,224.7 541.25,225.2 541.50,225.3 541.75,225.9 542.00,226.6 542.25,227.0 542.50,226.8 542.75,228.3 543.00,228.9 543.25,229.6 543.50,229.4 543.75,230.6 544.00,230.9 544.25,230.1 544.50,230.0 544.75,231.8 545.00,231.0 545.25,232.3 545.50,233.1 545.75,231.4 546.00,231.3 546.25,231.8 546.50,232.2 546.75,231.1 547.00,232.6 547.25,232.5 547.50,232.3 547.75,231.5 548.00,232.5 548.25,232.4 548.50,231.1 548.75,233.2 549.00,231.7 549.25,232.1 549.50,231.6 549.75,232.2 550.00,232.7 550.25,231.4 550.50,230.8 550.75,231.6 551.00,231.1 551.25,231.4 551.50,231.8 551.75,231.9 552.00,232.8 552.25,231.3 552.50,232.2 552.75,231.6 553.00,232.8 553.25,233.4 553.50,232.1 553.75,233.0 554.00,231.6 554.25,230.9 554.50,231.1 554.75,230.9 555.00,231.3 555.25,231.8 555.50,232.7 555.75,232.4 556.00,232.2 556.25,231.7 556.50,231.5 556.75,232.0 557.00,232.0 557.25,232.1 557.50,232.2 557.75,231.8 558.00,230.7 558.25,231.2 558.50,231.3 558.75,232.9 559.00,231.5 559.25,232.1 559.50,232.5 559.75,231.7 560.00,231.1 560.25,231.0 560.50,230.3 560.75,230.7 561.00,230.8 561.25,230.1 561.50,229.8 561.75,229.5 562.00,229.7 562.25,228.5 562.50,228.8 562.75,229.1 563.00,229.6 563.25,228.4 563.50,229.5 563.75,230.1 564.00,230.0 564.25,231.3 564.50,231.2 564.75,231.1 565.00,230.5 565.25,230.8 565.50,231.1 565.75,232.1 566.00,231.1 566.25,230.6 566.50,231.0 566.75,231.6 567.00,233.1 567.25,233.5 567.50,231.7 567.75,232.6 568.00,232.9 568.25,232.9 568.50,232.0 568.75,231.2 569.00,231.7 569.25,230.8 569.50,232.2 569.75,232.6 570.00,230.8 570.25,232.0 570.50,232.3 570.75,232.9 571.00,233.0 571.25,232.6 571.50,231.6 571.75,231.8 572.00,232.9 572.25,231.7 572.50,232.1 572.75,233.1 573.00,232.2 573.25,231.2 573.50,231.9 573.75,232.5 574.00,232.0 574.25,232.9 574.50,232.9 574.75,231.7 575.00,231.8 575.25,232.0 575.50,231.3 575.75,232.4 576.00,232.0 576.25,232.6 576.50,231.7 576.75,231.5 577.00,233.3 577.25,231.6 577.50,231.7 577.75,231.7 578.00,231.9 578.25,231.5 578.50,232.1 578.75,231.7 579.00,231.9 579.25,232.4 579.50,232.6 579.75,232.5 580.00,231.7 580.25,232.4 580.50,232.1 580.75,232.1 581.00,231.0 581.25,232.6 581.50,232.1 581.75,233.3 582.00,232.6 582.25,231.4 582.50,231.3 582.75,232.9 583.00,231.6 583.25,232.6 583.50,232.0 583.75,233.6 584.00,232.2 584.25,233.2 584.50,233.1 584.75,231.9 585.00,232.0 585.25,233.2 585.50,232.2 585.75,231.6 586.00,233.0 586.25,233.7 586.50,232.2 586.75,233.1 587.00,232.1 587.25,233.1 587.50,232.1 587.75,233.1 588.00,232.6 588.25,232.1 588.50,232.4 588.75,231.9 589.00,231.5 589.25,231.5 589.50,232.2 589.75,231.6 590.00,232.5 590.25,232.6 590.50,232.6 590.75,231.9 591.00,232.3 591.25,232.2 591.50,233.1 591.75,231.7 592.00,232.0 592.25,232.1 592.50,232.2 592.75,231.8 593.00,231.9 593.25,232.9 593.50,231.9 593.75,232.9 594.00,233.6 594.25,233.1 594.50,231.1 594.75,232.8 595.00,232.6 595.25,232.6 595.50,231.2 595.75,232.8 596.00,231.6 596.25,233.1 596.50,233.0 596.75,233.8 597.00,232.0 597.25,231.3 597.50,233.0 597.75,232.9 598.00,232.0 598.25,233.2 598.50,232.8 598.75,231.5 599.00,232.1 599.25,232.0 599.50,232.2 599.75,232.4 600.00,231.9 600.25,232.2 600.50,232.7 600.75,232.3 601.00,232.1 601.25,232.1 601.50,232.2 601.75,231.0 602.00,232.4 602.25,231.6 602.50,232.4 602.75,231.3 603.00,232.9 603.25,232.5 603.50,231.4 603.75,232.5 604.00,231.8 604.25,233.5 604.50,232.6 604.75,231.8 605.00,232.4 605.25,232.3 605.50,233.1 605.75,232.5 606.00,232.6 606.25,231.6 606.50,232.8 606.75,233.7 607.00,232.7 607.25,232.3 607.50,232.4 607.75,231.7 608.00,232.4 608.25,231.6 608.50,232.3 608.75,232.0 609.00,231.7 609.25,232.7 609.50,231.3 609.75,232.2 610.00,231.4 610.25,233.5 610.50,233.6 610.75,232.8 611.00,233.5 611.25,232.6 611.50,232.6 611.75,232.0 612.00,231.7 612.25,232.3 612.50,231.9 612.75,231.9 613.00,232.7 613.25,232.1 613.50,231.2 613.75,232.0 614.00,231.7 614.25,232.0 614.50,231.5 614.75,232.9 615.00,233.3 615.25,231.4 615.50,232.5 615.75,232.4 616.00,231.4 616.25,232.1 616.50,232.8 616.75,232.4 617.00,232.8 617.25,231.1 617.50,231.3 617.75,231.8 618.00,231.7 618.25,231.3 618.50,230.7 618.75,230.2 619.00,229.1 619.25,227.7 619.50,224.0 619.75,220.9 620.00,215.4 620.25,210.0 620.50,206.0 620.75,204.2 621.00,205.8 621.25,208.7 621.50,212.0 621.75,214.1 622.00,215.3 622.25,215.6 622.50,216.9 622.75,219.2 623.00,221.7 623.25,225.0 623.50,227.3 623.75,228.4 624.00,230.7 624.25,231.6 624.50,230.5 624.75,231.8 625.00,232.4 625.25,232.2 625.50,231.2 625.75,231.0 626.00,231.9 626.25,231.7 626.50,232.0 626.75,232.0 627.00,232.4 627.25,231.7 627.50,232.0 627.75,233.6 628.00,232.1 628.25,232.6 628.50,232.3 628.75,232.3 629.00,231.6 629.25,232.5 629.50,232.2 629.75,232.7 630.00,233.5 630.25,232.3 630.50,232.7 630.75,231.6 631.00,232.3 631.25,233.3 631.50,232.2 631.75,231.8 632.00,232.4 632.25,232.1 632.50,232.1 632.75,232.0 633.00,233.6 633.25,231.7 633.50,232.0 633.75,231.9 634.00,233.1 634.25,232.1 634.50,233.1 634.75,232.4 635.00,232.3 635.25,231.3 635.50,233.1 635.75,232.6 636.00,232.6 636.25,232.2 636.50,232.0 636.75,231.5 637.00,232.9 637.25,232.5 637.50,232.1 637.75,231.9 638.00,232.4 638.25,232.2 638.50,233.4 638.75,232.8 639.00,231.9 639.25,231.6 639.50,232.2 639.75,231.7 640.00,232.4 640.25,232.6 640.50,232.7 640.75,232.6 641.00,232.2 641.25,232.7 641.50,231.7 641.75,232.3 642.00,232.9 642.25,232.5 642.50,231.5 642.75,231.6 643.00,231.3 643.25,233.5 643.50,231.3 643.75,232.2 644.00,233.5 644.25,233.0 644.50,233.2 644.75,232.0 645.00,232.8 645.25,233.8 645.50,232.3 645.75,232.6 646.00,232.1 646.25,232.3 646.50,232.6 646.75,233.2 647.00,231.7 647.25,231.4 647.50,232.4 647.75,232.5 648.00,233.3 648.25,232.8 648.50,231.9 648.75,232.7 649.00,233.1 649.25,232.5 649.50,232.1 649.75,232.8 650.00,232.1 650.25,231.1 650.50,233.2 650.75,231.5 651.00,232.1 651.25,232.1 651.50,232.1 651.75,232.1 652.00,231.4 652.25,232.7 652.50,232.3 652.75,232.3 653.00,233.0 653.25,233.0 653.50,233.2 653.75,233.5 654.00,232.6 654.25,231.3 654.50,232.5 654.75,232.3 655.00,232.4 655.25,231.9 655.50,231.7 655.75,232.8 656.00,232.9 656.25,231.6 656.50,232.6 656.75,232.2 657.00,232.0 657.25,232.7 657.50,232.2 657.75,231.9 658.00,232.3 658.25,231.0 658.50,231.9 658.75,231.9 659.00,231.3 659.25,232.3 659.50,232.4 659.75,231.8 660.00,232.0 660.25,232.5 660.50,232.7 660.75,231.4 661.00,231.9 661.25,232.1 661.50,231.2 661.75,230.4 662.00,229.9 662.25,229.6 662.50,228.6 662.75,229.2 663.00,227.6 663.25,227.4 663.50,227.1 663.75,227.2 664.00,226.9 664.25,226.9 664.50,228.3 664.75,228.1 665.00,228.6 665.25,229.1 665.50,230.0 665.75,230.3 666.00,230.9 666.25,231.2 666.50,231.2 666.75,231.5 667.00,231.2 667.25,230.6 667.50,231.8 667.75,231.3 668.00,233.5 668.25,233.1 668.50,232.9 668.75,231.8 669.00,233.5 669.25,231.1 669.50,231.4 669.75,231.7 670.00,231.6 670.25,232.3 670.50,232.4 670.75,233.5 671.00,232.9 671.25,233.1 671.50,232.5 671.75,232.2 672.00,231.8 672.25,231.3 672.50,231.7 672.75,232.0 673.00,232.8 673.25,231.2 673.50,231.4 673.75,232.4 674.00,231.6 674.25,232.5 674.50,232.0 674.75,231.8 675.00,231.4 675.25,232.2 675.50,231.8 675.75,231.9 676.00,231.8 676.25,232.4 676.50,232.3 676.75,231.1 677.00,232.1 677.25,232.4 677.50,232.8 677.75,232.6 678.00,232.2 678.25,231.3 678.50,231.5 678.75,232.5 679.00,231.4 679.25,232.4 679.50,232.4 679.75,230.9 680.00,231.6 680.25,231.2 680.50,232.2 680.75,231.3 681.00,230.4 681.25,230.7 681.50,229.9 681.75,230.1 682.00,230.1 682.25,229.9 682.50,229.8 682.75,229.2 683.00,228.7 683.25,229.3 683.50,229.1 683.75,229.3 684.00,230.7 684.25,230.4 684.50,229.9 684.75,229.5 685.00,229.8 685.25,230.8 685.50,231.3 685.75,230.8 686.00,231.2 686.25,231.5 686.50,232.1 686.75,230.5 687.00,231.8 687.25,232.1 687.50,232.5 687.75,232.2 688.00,231.3 688.25,231.7 688.50,231.2 688.75,232.3 689.00,232.3 689.25,232.5 689.50,231.6 689.75,231.5 690.00,233.2 690.25,232.4 690.50,233.4 690.75,232.6 691.00,231.3 691.25,232.8 691.50,233.1 691.75,232.0 692.00,231.1 692.25,232.7 692.50,232.2 692.75,232.5 693.00,230.8 693.25,232.6 693.50,230.8 693.75,231.8 694.00,232.9 694.25,231.1 694.50,231.1 694.75,232.0 695.00,233.4 695.25,233.4 695.50,231.9 695.75,233.0 696.00,232.7 696.25,232.5 696.50,232.6 696.75,231.9 697.00,232.9 697.25,233.1 697.50,233.9 697.75,233.0 698.00,230.9 698.25,231.6 698.50,232.6 698.75,232.4 699.00,231.1 699.25,232.3 699.50,232.1 699.75,232.3 700.00,232.3 700.25,233.0 700.50,233.3 700.75,232.8 701.00,231.6 701.25,231.8 701.50,231.9 701.75,232.3 702.00,232.1 702.25,232.1 702.50,231.8 702.75,233.0 703.00,232.9 703.25,233.0 703.50,232.3 703.75,232.7 704.00,231.8 704.25,231.7 704.50,232.0 704.75,232.8 705.00,232.3 705.25,231.6 705.50,232.4 705.75,232.7 706.00,232.5 706.25,231.9 706.50,232.4 706.75,232.1 707.00,232.2 707.25,232.3 707.50,232.9 707.75,233.6 708.00,233.4 708.25,232.8 708.50,232.1 708.75,232.2 709.00,232.2 709.25,233.1 709.50,230.9 709.75,232.6 710.00,231.1 710.25,232.4 710.50,233.3 710.75,231.8 711.00,230.9 711.25,233.2 711.50,233.4 711.75,232.7 712.00,233.2 712.25,231.9 712.50,233.2 712.75,233.5 713.00,232.8 713.25,232.6 713.50,233.2 713.75,233.1 714.00,231.9 714.25,233.3 714.50,232.9 714.75,232.5 715.00,233.2 715.25,233.0 715.50,232.9 715.75,232.1 716.00,232.9 716.25,231.7 716.50,232.3 716.75,231.3 717.00,231.3 717.25,232.7 717.50,232.3 717.75,232.4 718.00,232.8 718.25,232.6 718.50,231.8 718.75,232.4 719.00,232.3 719.25,232.0 719.50,232.3 719.75,232.1 720.00,232.0 720.25,232.2 720.50,232.5 720.75,233.7 721.00,231.8 721.25,232.7 721.50,231.4 721.75,233.4 722.00,232.2 722.25,232.5 722.50,233.2 722.75,233.0 723.00,231.4 723.25,232.7 723.50,232.2 723.75,232.8 724.00,232.5 724.25,232.9 724.50,232.6 724.75,232.3 725.00,233.1 725.25,231.4 725.50,232.1 725.75,231.8 726.00,232.3 726.25,232.1 726.50,232.3 726.75,232.1 727.00,232.1 727.25,231.3 727.50,232.3 727.75,232.6 728.00,232.0 728.25,231.9 728.50,231.9 728.75,233.5 729.00,232.5 729.25,232.6 729.50,232.2 729.75,232.0 730.00,231.8 730.25,233.3 730.50,231.2 730.75,232.5 731.00,232.3 731.25,232.2 731.50,231.3 731.75,231.5 732.00,232.9 732.25,231.9 732.50,232.9 732.75,232.7 733.00,232.7 733.25,232.8 733.50,231.5 733.75,231.9 734.00,232.7 734.25,231.4 734.50,233.3 734.75,231.8 735.00,232.1 735.25,231.5 735.50,232.3 735.75,231.6 736.00,231.9 736.25,231.3 736.50,232.6 736.75,230.8 737.00,232.0 737.25,231.7 737.50,231.5 737.75,230.2 738.00,230.4 738.25,229.1 738.50,227.0 738.75,224.7 739.00,221.9 739.25,219.2 739.50,216.5 739.75,215.2 740.00,215.0 740.25,215.4 740.50,216.5 740.75,218.1 741.00,219.1 741.25,220.2 741.50,220.9 741.75,222.2 742.00,223.6 742.25,225.7 742.50,227.2 742.75,228.3 743.00,229.8 743.25,231.2 743.50,231.2 743.75,230.9 744.00,231.9 744.25,231.2 744.50,231.0 744.75,232.3 745.00,231.7 745.25,232.8 745.50,232.3 745.75,231.6 746.00,232.3 746.25,233.0 746.50,232.1 746.75,231.5 747.00,231.8 747.25,231.7 747.50,231.5 747.75,231.4 748.00,232.5 748.25,233.0 748.50,232.0 748.75,232.8 749.00,232.9 749.25,233.4 749.50,232.2 749.75,232.1 750.00,232.6 750.25,232.4 750.50,232.5 750.75,233.1 751.00,232.0 751.25,232.4 751.50,231.6 751.75,232.1 752.00,231.8 752.25,231.7 752.50,232.0 752.75,231.9 753.00,232.3 753.25,232.5 753.50,231.0 753.75,232.4 754.00,230.4 754.25,231.7 754.50,231.8 754.75,230.8 755.00,230.9 755.25,230.4 755.50,231.0 755.75,229.2 756.00,229.7 756.25,229.1 756.50,230.0 756.75,230.5 757.00,230.5 757.25,230.3 757.50,230.2 757.75,229.9 758.00,231.1 758.25,231.0 758.50,230.5 758.75,230.4 759.00,231.0 759.25,232.1 759.50,232.4 759.75,232.7 760.00,231.4 760.25,231.8 760.50,232.9 760.75,232.3 761.00,232.7 761.25,231.4 761.50,232.0 761.75,232.3 762.00,232.1 762.25,232.0 762.50,231.3 762.75,233.4 763.00,232.4 763.25,231.4 763.50,233.0 763.75,232.4 764.00,232.8 764.25,232.2 764.50,231.8 764.75,231.9 765.00,232.6 765.25,232.8 765.50,232.7 765.75,232.8 766.00,233.1 766.25,232.5 766.50,233.0 766.75,233.1 767.00,232.5 767.25,232.3 767.50,232.0 767.75,231.5 768.00,231.3 768.25,233.1 768.50,232.3 768.75,231.9 769.00,233.2 769.25,232.8 769.50,232.2 769.75,232.8 770.00,232.0 770.25,232.2 770.50,233.0 770.75,232.5 771.00,231.6 771.25,232.0 771.50,232.1 771.75,231.2 772.00,230.9 772.25,231.8 772.50,230.5 772.75,229.8 773.00,230.2 773.25,231.0 773.50,230.0 773.75,229.9 774.00,228.3 774.25,228.9 774.50,229.5 774.75,228.7 775.00,229.4 775.25,229.1 775.50,229.1 775.75,229.8 776.00,229.1 776.25,229.3 776.50,229.8 776.75,230.1 777.00,229.4 777.25,231.1 777.50,230.8 777.75,230.8 778.00,231.5 778.25,231.1 778.50,232.2 778.75,231.7 779.00,232.2 779.25,231.4 779.50,231.8 779.75,232.3 780.00,231.6 780.25,231.8 780.50,232.2 780.75,233.0 781.00,232.8 781.25,232.9 781.50,232.6 781.75,233.0 782.00,233.4 782.25,232.5 782.50,232.7 782.75,232.8 783.00,231.1 783.25,232.4 783.50,232.7 783.75,232.9 784.00,232.2 784.25,233.1 784.50,232.0 784.75,232.4 785.00,233.6 785.25,231.6 785.50,232.4 785.75,232.4 786.00,232.4 786.25,232.1 786.50,232.9 786.75,231.8 787.00,231.6 787.25,232.8 787.50,231.7 787.75,232.7 788.00,232.5 788.25,232.0 788.50,232.3 788.75,232.4 789.00,232.8 789.25,232.1 789.50,232.3 789.75,231.5 790.00,232.3 790.25,231.2 790.50,232.4 790.75,232.2 791.00,233.8 791.25,233.3 791.50,232.4 791.75,233.1 792.00,232.7 792.25,231.7 792.50,230.9 792.75,233.2 793.00,232.7 793.25,231.2 793.50,232.9 793.75,233.1 794.00,232.0 794.25,233.0 794.50,231.3 794.75,232.3 795.00,232.5 795.25,233.0 795.50,232.7 795.75,232.6 796.00,232.8 796.25,232.0 796.50,233.4 796.75,232.2 797.00,233.0 797.25,232.5 797.50,232.3 797.75,232.8 798.00,232.7 798.25,233.3 798.50,233.2 798.75,232.1 799.00,232.8 799.25,232.5 799.50,231.9 799.75,231.7 800.00,232.6 800.25,232.1 800.50,231.5 800.75,232.4 801.00,232.6 801.25,232.5 801.50,231.7 801.75,232.1 802.00,233.3 802.25,231.9 802.50,232.2 802.75,233.9 803.00,232.7 803.25,232.1 803.50,231.2 803.75,232.6 804.00,231.5 804.25,232.4 804.50,231.8 804.75,231.3 805.00,233.5 805.25,232.3 805.50,233.0 805.75,232.9 806.00,231.9 806.25,232.4 806.50,232.1 806.75,233.0 807.00,232.6 807.25,232.1 807.50,233.4 807.75,232.6 808.00,232.6 808.25,231.8 808.50,232.5 808.75,231.3 809.00,232.5 809.25,231.6 809.50,232.3 809.75,232.0 810.00,232.3 810.25,232.3 810.50,232.0 810.75,232.0 811.00,231.1 811.25,230.8 811.50,232.6 811.75,232.1 812.00,230.7 812.25,232.4 812.50,230.6 812.75,230.7 813.00,229.8 813.25,228.3 813.50,226.7 813.75,223.7 814.00,221.3 814.25,218.2 814.50,215.2 814.75,212.7 815.00,211.3 815.25,211.2 815.50,212.4 815.75,213.6 816.00,215.4 816.25,216.9 816.50,218.3 816.75,220.0 817.00,221.7 817.25,223.3 817.50,225.4 817.75,227.6 818.00,227.9 818.25,229.3 818.50,229.9 818.75,231.9 819.00,230.5 819.25,231.5 819.50,232.2 819.75,231.3 820.00,231.8 820.25,231.5 820.50,231.1 820.75,231.9 821.00,232.3 821.25,231.8 821.50,232.1 821.75,232.5 822.00,232.8 822.25,231.3 822.50,232.4 822.75,231.6 823.00,230.9 823.25,231.5 823.50,232.3 823.75,232.0 824.00,231.1 824.25,232.5 824.50,231.5 824.75,230.9 825.00,230.1 825.25,229.8 825.50,228.6 825.75,228.0 826.00,226.4 826.25,225.2 826.50,223.6 826.75,222.2 827.00,221.9 827.25,221.2 827.50,221.6 827.75,222.1 828.00,222.6 828.25,223.8 828.50,224.0 828.75,225.8 829.00,226.1 829.25,227.5 829.50,228.6 829.75,228.6 830.00,229.3 830.25,230.7 830.50,230.9 830.75,231.2 831.00,230.5 831.25,230.8 831.50,232.2 831.75,232.9 832.00,231.7 832.25,231.6 832.50,232.3 832.75,232.5 833.00,232.6 833.25,232.0 833.50,231.1 833.75,233.2 834.00,232.0 834.25,233.1 834.50,231.1 834.75,232.6 835.00,232.0 835.25,231.7 835.50,233.0 835.75,233.2 836.00,232.0 836.25,232.8 836.50,231.7 836.75,232.0 837.00,232.3 837.25,232.2 837.50,232.8 837.75,231.7 838.00,233.1 838.25,233.1 838.50,232.3 838.75,231.7 839.00,231.0 839.25,232.4 839.50,232.0 839.75,232.5 840.00,231.8 840.25,232.5 840.50,232.4 840.75,232.5 841.00,232.7 841.25,232.7 841.50,233.1 841.75,232.0 842.00,232.9 842.25,232.6 842.50,232.2 842.75,231.8 843.00,233.4 843.25,232.6 843.50,232.1 843.75,232.5 844.00,232.5 844.25,232.1 844.50,231.6 844.75,232.6 845.00,232.4 845.25,232.3 845.50,233.1 845.75,231.6 846.00,231.9 846.25,232.6 846.50,233.0 846.75,232.9 847.00,233.0 847.25,231.1 847.50,232.8 847.75,232.8 848.00,232.9 848.25,232.1 848.50,232.8 848.75,233.2 849.00,233.5 849.25,232.7 849.50,231.6 849.75,232.5 850.00,232.9 850.25,232.8 850.50,233.7 850.75,232.4 851.00,231.8 851.25,232.1 851.50,232.9 851.75,232.0 852.00,231.8 852.25,232.0 852.50,233.3 852.75,232.7 853.00,232.3 853.25,233.1 853.50,233.0 853.75,231.9 854.00,233.1 854.25,232.7 854.50,231.2 854.75,231.7 855.00,232.7 855.25,232.8 855.50,232.3 855.75,231.9 856.00,232.7 856.25,231.3 856.50,232.9 856.75,232.4 857.00,232.5 857.25,232.1 857.50,233.1 857.75,231.0 858.00,232.0 858.25,232.9 858.50,232.1 858.75,233.5 859.00,232.8 859.25,232.0 859.50,233.2 859.75,232.5 860.00,232.9 860.25,232.1 860.50,232.1 860.75,233.0 861.00,232.6 861.25,232.0 861.50,231.9 861.75,232.9 862.00,233.6 862.25,232.0 862.50,232.9 862.75,231.0 863.00,231.6 863.25,232.9 863.50,233.5 863.75,232.5 864.00,232.8 864.25,232.6 864.50,233.1 864.75,231.7 865.00,232.8 865.25,232.1 865.50,232.1 865.75,232.2 866.00,231.9 866.25,231.3 866.50,231.1 866.75,230.0 867.00,230.3 867.25,228.9 867.50,227.7 867.75,228.0 868.00,228.1 868.25,228.5 868.50,229.0 868.75,230.3 869.00,231.2 869.25,232.3 869.50,231.8 869.75,231.8 870.00,233.7 870.25,233.2 870.50,232.6 870.75,231.8 871.00,232.7 871.25,233.2 871.50,232.9 871.75,233.0 872.00,232.5 872.25,233.2 872.50,232.1 872.75,232.2 873.00,232.2 873.25,232.1 873.50,233.7 873.75,231.4 874.00,232.6 874.25,231.9 874.50,231.7 874.75,232.6 875.00,231.5 875.25,232.4 875.50,233.9 875.75,232.4 876.00,232.8 876.25,231.9 876.50,232.8 876.75,231.5 877.00,232.6 877.25,232.4 877.50,233.8 877.75,232.4 878.00,232.2 878.25,232.1 878.50,231.7 878.75,232.9 879.00,233.3 879.25,232.2 879.50,232.8 879.75,232.2 880.00,232.6 880.25,232.6 880.50,231.4 880.75,231.8 881.00,232.9 881.25,231.1 881.50,232.3 881.75,232.0 882.00,231.6 882.25,232.2 882.50,232.3 882.75,232.4 883.00,230.6 883.25,232.9 883.50,231.5 883.75,232.2 884.00,231.3 884.25,230.7 884.50,230.4 884.75,230.7 885.00,229.2 885.25,227.2 885.50,225.9 885.75,224.3 886.00,222.3 886.25,220.5 886.50,219.0 886.75,217.8 887.00,217.8 887.25,218.1 887.50,218.9 887.75,219.3 888.00,220.5 888.25,221.5 888.50,223.0 888.75,223.9 889.00,225.0 889.25,225.9 889.50,227.9 889.75,228.7 890.00,230.0 890.25,230.0 890.50,231.9 890.75,230.8 891.00,231.8 891.25,232.0 891.50,232.5 891.75,231.9 892.00,231.5 892.25,231.5 892.50,232.6 892.75,232.2 893.00,232.4 893.25,231.7 893.50,232.3 893.75,232.4 894.00,232.7 894.25,231.4 894.50,231.8 894.75,233.4 895.00,232.1 895.25,232.3 895.50,232.1 895.75,231.4 896.00,231.6 896.25,232.6 896.50,231.9 896.75,233.6 897.00,231.4 897.25,231.1 897.50,232.1 897.75,231.5 898.00,233.2 898.25,232.0 898.50,232.6 898.75,231.4 899.00,232.6 899.25,232.6 899.50,232.9 899.75,232.3 900.00,232.4 900.25,232.1 900.50,232.5 900.75,231.6 901.00,232.0 901.25,231.1 901.50,231.3 901.75,230.2 902.00,229.2 902.25,228.1 902.50,227.4 902.75,224.6 903.00,222.7 903.25,221.2 903.50,219.0 903.75,217.8 904.00,217.1 904.25,217.8 904.50,217.9 904.75,218.8 905.00,220.0 905.25,221.2 905.50,222.4 905.75,223.2 906.00,225.0 906.25,226.8 906.50,226.8 906.75,228.8 907.00,229.8 907.25,230.3 907.50,230.8 907.75,230.0 908.00,232.3 908.25,231.6 908.50,231.8 908.75,232.8 909.00,230.7 909.25,232.1 909.50,232.6 909.75,232.7 910.00,232.7 910.25,233.6 910.50,232.5 910.75,233.0 911.00,232.9 911.25,231.4 911.50,231.9 911.75,233.7 912.00,232.2 912.25,232.4 912.50,231.6 912.75,232.2 913.00,231.6 913.25,232.1 913.50,232.8 913.75,231.9 914.00,232.1 914.25,233.3 914.50,232.8 914.75,232.8 915.00,233.1 915.25,232.1 915.50,232.2 915.75,231.2 916.00,233.0 916.25,232.4 916.50,232.5 916.75,231.8 917.00,232.9 917.25,232.9 917.50,232.6 917.75,231.5 918.00,232.0 918.25,232.5 918.50,232.0 918.75,232.8 919.00,233.2 919.25,232.0 919.50,232.4 919.75,232.1 920.00,233.2 920.25,233.1 920.50,234.0 920.75,232.5 921.00,231.8 921.25,232.7 921.50,232.2 921.75,232.5 922.00,233.1 922.25,232.1 922.50,232.8 922.75,230.9 923.00,232.9 923.25,232.3 923.50,232.0 923.75,231.8 924.00,233.1 924.25,231.8 924.50,232.9 924.75,231.7 925.00,232.1 925.25,232.2 925.50,233.3 925.75,232.1 926.00,232.1 926.25,231.9 926.50,231.7 926.75,231.5 927.00,233.0 927.25,232.8 927.50,231.3 927.75,231.9 928.00,231.0 928.25,232.3 928.50,232.1 928.75,231.7 929.00,231.1 929.25,232.1 929.50,232.0 929.75,231.4 930.00,232.0 930.25,230.6 930.50,231.1 930.75,230.8 931.00,231.5 931.25,232.5 931.50,231.4 931.75,232.1 932.00,231.3 932.25,231.0 932.50,231.9 932.75,231.5 933.00,232.1 933.25,231.7 933.50,230.6 933.75,229.6 934.00,231.1 934.25,230.2 934.50,230.0 934.75,229.9 935.00,230.4 935.25,230.6 935.50,230.7 935.75,231.9 936.00,229.9 936.25,230.5 936.50,229.7 936.75,229.8 937.00,230.4 937.25,230.5 937.50,229.5 937.75,230.8 938.00,229.6 938.25,230.6 938.50,229.9 938.75,230.4 939.00,230.2 939.25,229.6 939.50,230.0 939.75,228.9 940.00,228.9 940.25,229.4 940.50,230.3 940.75,229.1 941.00,229.1 941.25,230.3 941.50,229.4 941.75,229.4 942.00,228.8 942.25,229.4 942.50,229.7 942.75,229.4 943.00,229.8 943.25,229.6 943.50,230.0 943.75,229.9 944.00,229.4 944.25,230.0 944.50,230.6 944.75,229.8 945.00,229.0 945.25,229.8 945.50,229.6 945.75,231.1 946.00,230.3 946.25,229.2 946.50,229.8 946.75,230.8 947.00,229.3 947.25,229.7 947.50,230.0 947.75,230.0 948.00,229.8 948.25,230.2 948.50,229.3 948.75,229.8 949.00,229.9 949.25,230.1 949.50,230.1 949.75,230.3 950.00,230.1 950.25,230.1 950.50,230.6 950.75,231.0 951.00,231.1 951.25,229.8 951.50,230.7 951.75,231.1 952.00,230.5 952.25,231.0 952.50,230.6 952.75,231.0 953.00,229.8 953.25,231.1 953.50,230.5 953.75,230.4 954.00,230.7 954.25,231.6 954.50,231.6 954.75,231.1 955.00,231.6 955.25,230.8 955.50,230.3 955.75,229.9 956.00,231.1 956.25,231.1 956.50,231.2 956.75,231.3 957.00,232.0" fill="none" stroke="#148014" stroke-width="2.1" stroke-linejoin="round"/>
<polyline points="140.60,459.1 140.85,458.0 141.10,458.2 141.35,455.4 141.60,461.5 141.85,460.6 142.10,458.4 142.35,460.1 142.60,459.4 142.85,458.1 143.10,460.5 143.35,458.5 143.60,458.5 143.85,457.8 144.10,459.8 144.35,458.9 144.60,459.9 144.85,458.2 145.10,459.3 145.35,457.7 145.60,460.5 145.85,459.5 146.10,459.7 146.35,459.9 146.60,457.6 146.85,460.5 147.10,462.6 147.35,456.6 147.60,456.5 147.85,456.9 148.10,460.7 148.35,459.6 148.60,461.2 148.85,460.6 149.10,459.8 149.35,459.9 149.60,459.2 149.85,460.9 150.10,457.6 150.35,458.8 150.60,460.0 150.85,462.7 151.10,458.4 151.35,457.9 151.60,458.8 151.85,461.5 152.10,459.5 152.35,462.3 152.60,456.7 152.85,462.1 153.10,461.9 153.35,457.6 153.60,460.5 153.85,462.4 154.10,460.5 154.35,462.2 154.60,464.6 154.85,461.0 155.10,460.0 155.35,459.1 155.60,461.8 155.85,460.3 156.10,460.4 156.35,460.6 156.60,462.0 156.85,458.8 157.10,458.0 157.35,456.6 157.60,463.3 157.85,461.2 158.10,464.0 158.35,461.1 158.60,459.8 158.85,462.2 159.10,461.1 159.35,458.9 159.60,459.7 159.85,464.9 160.10,462.2 160.35,462.4 160.60,461.0 160.85,460.3 161.10,463.5 161.35,461.5 161.60,460.3 161.85,461.6 162.10,460.1 162.35,462.3 162.60,464.3 162.85,460.3 163.10,465.0 163.35,460.8 163.60,462.5 163.85,460.5 164.10,461.8 164.35,462.4 164.60,461.5 164.85,461.0 165.10,461.1 165.35,460.8 165.60,459.3 165.85,462.1 166.10,463.5 166.35,464.6 166.60,464.1 166.85,467.5 167.10,463.5 167.35,462.0 167.60,466.7 167.85,460.9 168.10,465.0 168.35,461.2 168.60,463.9 168.85,459.3 169.10,465.0 169.35,463.0 169.60,461.5 169.85,466.7 170.10,464.9 170.35,463.6 170.60,462.1 170.85,463.5 171.10,463.3 171.35,465.0 171.60,465.2 171.85,462.4 172.10,462.7 172.35,462.8 172.60,461.3 172.85,462.7 173.10,463.7 173.35,465.2 173.60,466.4 173.85,462.5 174.10,465.0 174.35,463.2 174.60,467.8 174.85,464.0 175.10,465.0 175.35,462.5 175.60,462.7 175.85,464.6 176.10,463.6 176.35,464.9 176.60,461.6 176.85,465.4 177.10,462.8 177.35,467.2 177.60,463.9 177.85,466.2 178.10,462.0 178.35,465.1 178.60,462.9 178.85,463.5 179.10,464.3 179.35,463.7 179.60,464.5 179.85,465.0 180.10,464.6 180.35,463.3 180.60,461.3 180.85,461.5 181.10,461.3 181.35,458.5 181.60,459.6 181.85,457.4 182.10,456.0 182.35,455.5 182.60,454.6 182.85,454.3 183.10,454.2 183.35,456.2 183.60,457.8 183.85,458.6 184.10,461.7 184.35,462.8 184.60,461.7 184.85,464.8 185.10,464.0 185.35,467.5 185.60,467.5 185.85,465.2 186.10,465.7 186.35,467.3 186.60,467.0 186.85,469.6 187.10,468.6 187.35,467.2 187.60,468.6 187.85,464.8 188.10,468.3 188.35,469.2 188.60,467.8 188.85,467.1 189.10,469.0 189.35,471.1 189.60,468.6 189.85,466.7 190.10,470.4 190.35,465.7 190.60,469.0 190.85,467.3 191.10,468.5 191.35,465.4 191.60,465.9 191.85,463.8 192.10,462.2 192.35,463.0 192.60,466.0 192.85,469.1 193.10,468.7 193.35,469.0 193.60,468.9 193.85,470.3 194.10,469.9 194.35,469.9 194.60,468.2 194.85,471.3 195.10,471.6 195.35,468.0 195.60,473.0 195.85,470.9 196.10,469.3 196.35,467.5 196.60,471.0 196.85,470.9 197.10,469.4 197.35,467.9 197.60,471.9 197.85,469.6 198.10,469.9 198.35,473.6 198.60,473.4 198.85,471.9 199.10,470.1 199.35,471.6 199.60,467.9 199.85,471.0 200.10,470.0 200.35,469.3 200.60,469.0 200.85,471.8 201.10,471.2 201.35,471.4 201.60,472.3 201.85,470.2 202.10,469.7 202.35,469.0 202.60,470.9 202.85,472.4 203.10,471.3 203.35,472.3 203.60,470.0 203.85,471.0 204.10,470.6 204.35,470.1 204.60,474.1 204.85,472.8 205.10,470.8 205.35,470.8 205.60,471.7 205.85,470.0 206.10,472.4 206.35,470.2 206.60,471.3 206.85,470.5 207.10,471.2 207.35,470.2 207.60,469.9 207.85,470.6 208.10,471.0 208.35,471.5 208.60,472.0 208.85,473.8 209.10,473.0 209.35,471.6 209.60,472.9 209.85,471.1 210.10,473.8 210.35,472.7 210.60,470.3 210.85,472.9 211.10,473.0 211.35,469.1 211.60,471.1 211.85,471.4 212.10,469.6 212.35,470.7 212.60,470.9 212.85,472.7 213.10,472.5 213.35,475.0 213.60,471.6 213.85,473.6 214.10,472.2 214.35,472.5 214.60,470.7 214.85,469.7 215.10,471.2 215.35,473.1 215.60,474.1 215.85,472.9 216.10,472.8 216.35,471.1 216.60,474.1 216.85,473.9 217.10,471.6 217.35,472.2 217.60,471.0 217.85,474.1 218.10,472.8 218.35,472.1 218.60,472.8 218.85,472.8 219.10,471.8 219.35,470.8 219.60,470.7 219.85,470.2 220.10,472.9 220.35,475.0 220.60,470.2 220.85,472.5 221.10,472.8 221.35,471.1 221.60,472.6 221.85,471.0 222.10,473.8 222.35,471.6 222.60,472.4 222.85,472.9 223.10,471.4 223.35,469.4 223.60,469.8 223.85,469.7 224.10,468.1 224.35,468.5 224.60,468.5 224.85,470.7 225.10,472.2 225.35,472.0 225.60,474.4 225.85,472.1 226.10,471.1 226.35,470.5 226.60,473.8 226.85,472.4 227.10,473.7 227.35,473.0 227.60,474.4 227.85,474.0 228.10,472.0 228.35,472.8 228.60,473.8 228.85,471.0 229.10,474.2 229.35,473.9 229.60,473.6 229.85,472.2 230.10,472.8 230.35,471.2 230.60,472.5 230.85,471.8 231.10,472.5 231.35,471.8 231.60,472.7 231.85,473.6 232.10,470.8 232.35,473.2 232.60,470.0 232.85,469.8 233.10,471.8 233.35,471.6 233.60,471.7 233.85,469.3 234.10,469.9 234.35,468.8 234.60,467.9 234.85,465.0 235.10,462.7 235.35,459.2 235.60,456.4 235.85,453.6 236.10,451.7 236.35,450.2 236.60,450.4 236.85,451.8 237.10,453.7 237.35,455.1 237.60,456.8 237.85,458.4 238.10,460.7 238.35,462.4 238.60,464.9 238.85,466.1 239.10,467.0 239.35,468.5 239.60,469.3 239.85,469.8 240.10,472.7 240.35,472.8 240.60,471.1 240.85,474.4 241.10,473.0 241.35,471.9 241.60,473.4 241.85,473.0 242.10,472.3 242.35,471.1 242.60,473.3 242.85,473.7 243.10,470.8 243.35,474.1 243.60,474.2 243.85,473.0 244.10,473.7 244.35,473.3 244.60,472.7 244.85,473.3 245.10,475.2 245.35,472.1 245.60,474.0 245.85,474.0 246.10,473.0 246.35,473.4 246.60,472.3 246.85,473.0 247.10,474.0 247.35,474.4 247.60,473.0 247.85,476.7 248.10,473.5 248.35,474.3 248.60,473.9 248.85,473.7 249.10,475.7 249.35,473.7 249.60,475.8 249.85,475.7 250.10,473.2 250.35,475.6 250.60,473.7 250.85,477.1 251.10,474.1 251.35,473.4 251.60,472.4 251.85,473.1 252.10,474.0 252.35,473.5 252.60,473.3 252.85,473.9 253.10,474.5 253.35,476.4 253.60,472.8 253.85,474.2 254.10,473.8 254.35,473.2 254.60,473.5 254.85,473.9 255.10,475.8 255.35,474.8 255.60,474.4 255.85,475.8 256.10,475.4 256.35,474.9 256.60,475.6 256.85,474.2 257.10,475.9 257.35,475.8 257.60,474.8 257.85,473.9 258.10,477.1 258.35,475.5 258.60,478.0 258.85,474.7 259.10,476.4 259.35,475.0 259.60,475.8 259.85,476.5 260.10,474.7 260.35,475.5 260.60,475.8 260.85,475.8 261.10,476.4 261.35,476.9 261.60,476.7 261.85,476.1 262.10,475.4 262.35,474.6 262.60,475.0 262.85,475.3 263.10,476.7 263.35,475.5 263.60,474.6 263.85,476.7 264.10,475.1 264.35,475.2 264.60,475.8 264.85,476.7 265.10,473.6 265.35,474.9 265.60,476.3 265.85,475.7 266.10,475.2 266.35,475.5 266.60,477.7 266.85,475.6 267.10,477.0 267.35,477.0 267.60,475.7 267.85,476.7 268.10,475.7 268.35,475.5 268.60,474.9 268.85,477.1 269.10,475.7 269.35,475.6 269.60,474.9 269.85,478.2 270.10,477.0 270.35,476.0 270.60,475.4 270.85,474.5 271.10,476.5 271.35,476.5 271.60,474.6 271.85,477.5 272.10,477.0 272.35,475.1 272.60,475.6 272.85,475.7 273.10,476.3 273.35,476.0 273.60,474.4 273.85,477.8 274.10,476.5 274.35,477.5 274.60,477.5 274.85,475.9 275.10,476.5 275.35,476.9 275.60,477.0 275.85,475.9 276.10,475.4 276.35,476.1 276.60,475.2 276.85,475.5 277.10,473.9 277.35,476.1 277.60,474.9 277.85,475.4 278.10,475.8 278.35,476.1 278.60,477.5 278.85,475.5 279.10,473.5 279.35,473.6 279.60,471.0 279.85,468.5 280.10,464.7 280.35,462.1 280.60,461.9 280.85,464.0 281.10,466.8 281.35,470.4 281.60,473.1 281.85,475.5 282.10,474.9 282.35,475.2 282.60,476.3 282.85,476.3 283.10,477.4 283.35,476.5 283.60,475.9 283.85,477.3 284.10,477.5 284.35,475.4 284.60,476.1 284.85,474.2 285.10,475.5 285.35,474.9 285.60,475.6 285.85,475.2 286.10,475.4 286.35,475.4 286.60,475.7 286.85,475.2 287.10,474.2 287.35,473.2 287.60,474.6 287.85,474.0 288.10,471.9 288.35,471.6 288.60,469.4 288.85,468.3 289.10,467.7 289.35,467.1 289.60,465.0 289.85,464.1 290.10,464.1 290.35,462.5 290.60,463.3 290.85,463.7 291.10,464.1 291.35,465.2 291.60,467.2 291.85,467.1 292.10,468.7 292.35,469.9 292.60,470.7 292.85,471.3 293.10,474.0 293.35,473.8 293.60,472.9 293.85,474.1 294.10,475.4 294.35,475.7 294.60,474.2 294.85,475.6 295.10,476.1 295.35,476.3 295.60,476.4 295.85,474.2 296.10,477.9 296.35,476.3 296.60,478.0 296.85,478.5 297.10,476.0 297.35,475.0 297.60,477.1 297.85,476.1 298.10,475.9 298.35,475.3 298.60,478.1 298.85,475.9 299.10,475.0 299.35,476.0 299.60,475.3 299.85,476.6 300.10,476.1 300.35,475.4 300.60,477.2 300.85,475.9 301.10,477.3 301.35,477.9 301.60,476.2 301.85,476.0 302.10,476.9 302.35,477.6 302.60,476.7 302.85,476.8 303.10,476.7 303.35,477.1 303.60,477.4 303.85,476.0 304.10,476.3 304.35,476.8 304.60,476.1 304.85,477.0 305.10,477.4 305.35,476.8 305.60,476.3 305.85,476.1 306.10,478.7 306.35,477.8 306.60,475.8 306.85,476.1 307.10,478.9 307.35,478.6 307.60,477.1 307.85,478.2 308.10,475.5 308.35,477.0 308.60,477.8 308.85,475.1 309.10,476.3 309.35,477.9 309.60,478.3 309.85,476.5 310.10,477.4 310.35,478.8 310.60,476.8 310.85,475.8 311.10,477.1 311.35,476.8 311.60,478.6 311.85,477.4 312.10,476.4 312.35,479.7 312.60,476.8 312.85,477.8 313.10,478.0 313.35,478.1 313.60,477.5 313.85,478.0 314.10,477.3 314.35,475.9 314.60,477.2 314.85,477.2 315.10,477.2 315.35,477.6 315.60,476.8 315.85,478.8 316.10,479.1 316.35,475.2 316.60,477.5 316.85,476.8 317.10,475.1 317.35,478.0 317.60,476.9 317.85,477.2 318.10,476.9 318.35,478.7 318.60,478.9 318.85,477.9 319.10,478.4 319.35,477.5 319.60,477.8 319.85,476.9 320.10,477.7 320.35,477.0 320.60,478.1 320.85,478.6 321.10,478.1 321.35,479.0 321.60,480.2 321.85,475.6 322.10,477.8 322.35,477.2 322.60,477.4 322.85,476.4 323.10,477.9 323.35,477.6 323.60,477.2 323.85,477.6 324.10,477.3 324.35,475.5 324.60,479.1 324.85,477.6 325.10,477.0 325.35,478.3 325.60,477.3 325.85,475.7 326.10,478.9 326.35,476.2 326.60,477.7 326.85,478.1 327.10,479.4 327.35,479.2 327.60,478.2 327.85,477.2 328.10,477.6 328.35,479.1 328.60,479.8 328.85,478.6 329.10,477.3 329.35,479.1 329.60,477.6 329.85,477.6 330.10,477.7 330.35,478.6 330.60,478.3 330.85,479.0 331.10,479.4 331.35,478.5 331.60,475.6 331.85,476.2 332.10,478.2 332.35,477.9 332.60,480.3 332.85,478.0 333.10,477.9 333.35,479.0 333.60,479.1 333.85,477.8 334.10,478.5 334.35,476.9 334.60,477.1 334.85,479.3 335.10,476.6 335.35,479.0 335.60,478.7 335.85,478.8 336.10,479.0 336.35,478.6 336.60,475.8 336.85,477.0 337.10,477.4 337.35,479.0 337.60,476.9 337.85,477.3 338.10,477.7 338.35,479.4 338.60,476.6 338.85,476.7 339.10,478.7 339.35,475.9 339.60,478.4 339.85,477.6 340.10,476.4 340.35,477.6 340.60,477.0 340.85,478.2 341.10,478.4 341.35,479.6 341.60,478.1 341.85,478.2 342.10,477.5 342.35,478.1 342.60,479.2 342.85,476.1 343.10,478.8 343.35,477.5 343.60,478.2 343.85,478.4 344.10,479.0 344.35,478.3 344.60,477.7 344.85,478.4 345.10,478.1 345.35,477.9 345.60,478.3 345.85,479.0 346.10,478.2 346.35,478.3 346.60,476.8 346.85,478.0 347.10,476.2 347.35,478.8 347.60,477.1 347.85,479.4 348.10,480.5 348.35,477.7 348.60,479.5 348.85,478.5 349.10,477.5 349.35,477.2 349.60,478.7 349.85,479.5 350.10,478.5 350.35,476.5 350.60,477.0 350.85,477.9 351.10,479.5 351.35,478.4 351.60,478.4 351.85,479.3 352.10,477.9 352.35,478.0 352.60,477.9 352.85,476.3 353.10,478.5 353.35,478.5 353.60,479.1 353.85,476.8 354.10,477.2 354.35,479.0 354.60,478.4 354.85,479.4 355.10,477.2 355.35,478.2 355.60,477.3 355.85,478.3 356.10,477.5 356.35,478.5 356.60,479.0 356.85,478.6 357.10,476.1 357.35,478.9 357.60,478.3 357.85,476.9 358.10,477.0 358.35,477.8 358.60,478.4 358.85,477.3 359.10,476.2 359.35,477.9 359.60,477.8 359.85,479.7 360.10,476.3 360.35,479.4 360.60,478.8 360.85,477.3 361.10,478.1 361.35,476.4 361.60,476.6 361.85,474.6 362.10,474.3 362.35,472.5 362.60,470.9 362.85,469.9 363.10,467.9 363.35,466.3 363.60,464.5 363.85,462.2 364.10,460.7 364.35,459.7 364.60,458.8 364.85,459.5 365.10,460.1 365.35,461.0 365.60,461.9 365.85,463.0 366.10,465.0 366.35,466.8 366.60,468.8 366.85,470.3 367.10,471.9 367.35,472.7 367.60,474.3 367.85,474.4 368.10,475.8 368.35,476.6 368.60,478.2 368.85,477.0 369.10,476.0 369.35,478.5 369.60,476.7 369.85,477.5 370.10,477.4 370.35,476.9 370.60,479.1 370.85,478.4 371.10,477.3 371.35,478.0 371.60,477.5 371.85,478.6 372.10,477.6 372.35,477.3 372.60,477.4 372.85,477.6 373.10,478.4 373.35,477.2 373.60,478.0 373.85,478.6 374.10,480.5 374.35,479.0 374.60,475.9 374.85,477.7 375.10,477.8 375.35,478.5 375.60,479.8 375.85,478.9 376.10,475.9 376.35,478.5 376.60,478.3 376.85,478.6 377.10,479.6 377.35,477.1 377.60,479.3 377.85,476.5 378.10,478.2 378.35,478.6 378.60,480.5 378.85,477.4 379.10,476.4 379.35,478.9 379.60,477.5 379.85,479.7 380.10,477.4 380.35,477.2 380.60,479.4 380.85,478.2 381.10,479.1 381.35,476.6 381.60,479.8 381.85,477.5 382.10,478.9 382.35,477.1 382.60,476.5 382.85,477.8 383.10,478.2 383.35,479.7 383.60,478.4 383.85,478.8 384.10,478.7 384.35,480.4 384.60,477.2 384.85,479.3 385.10,477.9 385.35,478.3 385.60,477.4 385.85,479.2 386.10,476.7 386.35,476.6 386.60,477.8 386.85,476.8 387.10,478.7 387.35,478.9 387.60,477.2 387.85,478.8 388.10,477.3 388.35,477.9 388.60,477.9 388.85,479.8 389.10,477.9 389.35,477.0 389.60,477.0 389.85,479.1 390.10,476.2 390.35,477.4 390.60,477.5 390.85,475.5 391.10,477.4 391.35,478.9 391.60,478.1 391.85,476.9 392.10,478.5 392.35,478.4 392.60,479.9 392.85,477.0 393.10,477.4 393.35,477.8 393.60,477.6 393.85,477.9 394.10,477.7 394.35,477.0 394.60,476.1 394.85,477.2 395.10,476.3 395.35,476.6 395.60,477.2 395.85,478.2 396.10,478.6 396.35,476.6 396.60,478.0 396.85,478.5 397.10,477.6 397.35,476.0 397.60,475.4 397.85,478.5 398.10,478.6 398.35,477.9 398.60,476.5 398.85,479.1 399.10,478.8 399.35,477.5 399.60,477.4 399.85,475.6 400.10,478.3 400.35,475.9 400.60,478.2 400.85,478.3 401.10,477.6 401.35,479.1 401.60,477.2 401.85,478.1 402.10,478.3 402.35,477.8 402.60,477.1 402.85,478.7 403.10,477.9 403.35,477.3 403.60,477.3 403.85,477.6 404.10,479.8 404.35,477.5 404.60,477.2 404.85,476.3 405.10,476.2 405.35,475.5 405.60,477.6 405.85,477.4 406.10,476.3 406.35,475.8 406.60,477.0 406.85,476.8 407.10,476.0 407.35,477.6 407.60,477.5 407.85,477.3 408.10,478.1 408.35,476.6 408.60,478.7 408.85,476.2 409.10,477.8 409.35,477.9 409.60,477.0 409.85,477.6 410.10,475.9 410.35,475.7 410.60,477.0 410.85,476.5 411.10,477.8 411.35,477.2 411.60,477.8 411.85,477.5 412.10,477.4 412.35,477.3 412.60,476.8 412.85,476.7 413.10,479.2 413.35,475.3 413.60,476.9 413.85,478.2 414.10,477.5 414.35,478.5 414.60,477.7 414.85,475.8 415.10,476.7 415.35,475.6 415.60,478.1 415.85,478.5 416.10,476.6 416.35,477.6 416.60,476.6 416.85,475.6 417.10,476.6 417.35,475.4 417.60,476.4 417.85,477.2 418.10,477.7 418.35,478.3 418.60,476.6 418.85,477.2 419.10,477.4 419.35,477.5 419.60,474.6 419.85,476.1 420.10,477.7 420.35,475.8 420.60,477.1 420.85,477.7 421.10,474.9 421.35,476.7 421.60,477.1 421.85,476.8 422.10,475.3 422.35,477.2 422.60,476.2 422.85,477.6 423.10,477.2 423.35,476.2 423.60,476.9 423.85,476.1 424.10,476.0 424.35,475.1 424.60,476.5 424.85,477.5 425.10,476.8 425.35,476.7 425.60,476.0 425.85,476.1 426.10,477.4 426.35,475.1 426.60,478.7 426.85,476.5 427.10,478.8 427.35,477.8 427.60,476.2 427.85,477.3 428.10,476.8 428.35,477.0 428.60,477.3 428.85,476.0 429.10,475.9 429.35,476.1 429.60,475.1 429.85,476.2 430.10,476.7 430.35,476.7 430.60,476.6 430.85,476.0 431.10,477.2 431.35,474.3 431.60,476.0 431.85,476.0 432.10,477.2 432.35,477.0 432.60,477.1 432.85,476.3 433.10,477.2 433.35,475.3 433.60,476.3 433.85,474.2 434.10,477.9 434.35,477.8 434.60,475.6 434.85,475.4 435.10,474.1 435.35,474.7 435.60,476.3 435.85,476.0 436.10,474.7 436.35,475.6 436.60,475.4 436.85,476.5 437.10,476.7 437.35,475.8 437.60,476.1 437.85,476.0 438.10,474.0 438.35,476.1 438.60,475.9 438.85,476.7 439.10,474.2 439.35,476.6 439.60,475.3 439.85,476.1 440.10,477.0 440.35,474.4 440.60,474.5 440.85,476.7 441.10,474.7 441.35,474.8 441.60,476.2 441.85,475.4 442.10,476.3 442.35,475.8 442.60,475.5 442.85,476.4 443.10,477.4 443.35,475.3 443.60,476.7 443.85,476.3 444.10,475.4 444.35,475.6 444.60,474.3 444.85,474.5 445.10,475.3 445.35,474.9 445.60,476.0 445.85,473.7 446.10,474.5 446.35,474.1 446.60,474.4 446.85,475.4 447.10,473.4 447.35,474.9 447.60,473.6 447.85,473.7 448.10,474.5 448.35,473.4 448.60,473.9 448.85,473.3 449.10,472.8 449.35,472.4 449.60,471.2 449.85,471.5 450.10,471.6 450.35,471.1 450.60,469.5 450.85,469.8 451.10,468.2 451.35,465.3 451.60,462.0 451.85,456.5 452.10,446.6 452.35,432.3 452.60,411.9 452.85,385.2 453.10,353.6 453.35,320.1 453.60,289.5 453.85,268.0 454.10,260.2 454.35,266.2 454.60,281.7 454.85,300.8 455.10,319.3 455.35,336.0 455.60,351.4 455.85,367.4 456.10,384.4 456.35,402.1 456.60,418.6 456.85,432.9 457.10,444.9 457.35,453.6 457.60,460.1 457.85,464.5 458.10,466.5 458.35,467.6 458.60,469.0 458.85,468.9 459.10,469.5 459.35,469.7 459.60,469.8 459.85,470.8 460.10,470.6 460.35,469.4 460.60,470.1 460.85,468.1 461.10,467.4 461.35,465.6 461.60,462.5 461.85,456.2 462.10,446.6 462.35,432.7 462.60,414.1 462.85,391.9 463.10,368.5 463.35,347.8 463.60,334.8 463.85,332.5 464.10,340.1 464.35,353.7 464.60,368.6 464.85,381.9 465.10,393.0 465.35,402.7 465.60,412.8 465.85,423.0 466.10,433.5 466.35,442.7 466.60,451.5 466.85,454.0 467.10,462.4 467.35,459.7 467.60,462.2 467.85,460.0 468.10,456.0 468.35,455.4 468.60,448.0 468.85,445.8 469.10,436.5 469.35,432.3 469.60,427.2 469.85,430.0 470.10,431.3 470.35,432.3 470.60,434.4 470.85,435.7 471.10,442.4 471.35,439.9 471.60,434.4 471.85,434.2 472.10,427.8 472.35,430.6 472.60,429.0 472.85,427.6 473.10,426.4 473.35,428.3 473.60,430.2 473.85,436.2 474.10,436.1 474.35,437.3 474.60,436.3 474.85,435.4 475.10,435.8 475.35,436.5 475.60,435.1 475.85,438.0 476.10,440.7 476.35,445.9 476.60,453.1 476.85,458.5 477.10,462.6 477.35,466.2 477.60,468.6 477.85,470.0 478.10,470.7 478.35,472.0 478.60,471.8 478.85,474.5 479.10,473.6 479.35,473.3 479.60,475.2 479.85,473.6 480.10,474.4 480.35,473.9 480.60,474.4 480.85,473.8 481.10,474.5 481.35,475.3 481.60,473.2 481.85,472.5 482.10,475.2 482.35,474.2 482.60,474.7 482.85,473.7 483.10,475.0 483.35,475.0 483.60,472.7 483.85,473.8 484.10,472.7 484.35,471.6 484.60,471.9 484.85,471.5 485.10,469.1 485.35,467.1 485.60,465.1 485.85,460.4 486.10,454.7 486.35,447.2 486.60,438.8 486.85,429.3 487.10,419.6 487.35,410.8 487.60,404.4 487.85,400.9 488.10,401.1 488.35,404.5 488.60,409.8 488.85,415.9 489.10,422.0 489.35,428.3 489.60,434.7 489.85,440.9 490.10,446.9 490.35,452.6 490.60,457.8 490.85,461.9 491.10,465.0 491.35,468.0 491.60,469.2 491.85,471.8 492.10,472.8 492.35,473.2 492.60,472.4 492.85,475.4 493.10,472.6 493.35,473.6 493.60,473.8 493.85,475.2 494.10,473.6 494.35,475.1 494.60,474.8 494.85,474.8 495.10,475.8 495.35,476.3 495.60,475.5 495.85,475.0 496.10,473.5 496.35,476.5 496.60,475.0 496.85,473.8 497.10,475.5 497.35,476.5 497.60,475.2 497.85,474.3 498.10,477.2 498.35,475.8 498.60,475.5 498.85,476.0 499.10,473.4 499.35,475.0 499.60,474.9 499.85,476.7 500.10,474.4 500.35,474.3 500.60,473.5 500.85,473.8 501.10,474.0 501.35,474.0 501.60,473.3 501.85,474.0 502.10,472.2 502.35,471.1 502.60,469.9 502.85,467.4 503.10,464.3 503.35,460.7 503.60,457.1 503.85,452.0 504.10,446.9 504.35,440.6 504.60,434.4 504.85,428.8 505.10,423.7 505.35,419.5 505.60,417.1 505.85,416.5 506.10,417.7 506.35,420.1 506.60,423.5 506.85,427.6 507.10,431.9 507.35,437.0 507.60,441.5 507.85,445.4 508.10,449.4 508.35,452.3 508.60,454.2 508.85,455.3 509.10,455.7 509.35,454.6 509.60,453.4 509.85,451.8 510.10,450.0 510.35,448.7 510.60,448.2 510.85,448.9 511.10,450.3 511.35,453.0 511.60,456.0 511.85,459.8 512.10,462.1 512.35,465.3 512.60,468.2 512.85,469.8 513.10,471.3 513.35,472.3 513.60,473.7 513.85,473.3 514.10,474.5 514.35,474.8 514.60,474.0 514.85,475.5 515.10,475.0 515.35,475.8 515.60,476.3 515.85,476.0 516.10,474.7 516.35,476.1 516.60,474.4 516.85,475.1 517.10,477.2 517.35,475.8 517.60,477.0 517.85,475.4 518.10,475.5 518.35,474.4 518.60,475.8 518.85,474.7 519.10,475.0 519.35,474.5 519.60,474.2 519.85,473.8 520.10,473.2 520.35,473.0 520.60,472.4 520.85,471.5 521.10,473.1 521.35,474.3 521.60,473.9 521.85,475.1 522.10,474.2 522.35,473.6 522.60,473.9 522.85,475.6 523.10,475.6 523.35,475.5 523.60,476.5 523.85,475.3 524.10,476.7 524.35,476.1 524.60,476.6 524.85,477.6 525.10,476.5 525.35,478.0 525.60,478.0 525.85,476.0 526.10,478.9 526.35,475.5 526.60,476.7 526.85,477.5 527.10,474.6 527.35,477.8 527.60,478.0 527.85,476.7 528.10,477.1 528.35,477.1 528.60,476.7 528.85,477.9 529.10,476.5 529.35,476.9 529.60,477.3 529.85,477.8 530.10,478.0 530.35,475.5 530.60,474.9 530.85,476.8 531.10,476.9 531.35,475.9 531.60,477.3 531.85,477.7 532.10,477.4 532.35,478.7 532.60,476.0 532.85,477.1 533.10,479.0 533.35,477.8 533.60,476.0 533.85,477.3 534.10,478.3 534.35,479.3 534.60,477.8 534.85,478.4 535.10,476.1 535.35,477.0 535.60,478.4 535.85,476.3 536.10,477.2 536.35,475.4 536.60,478.7 536.85,477.1 537.10,477.8 537.35,475.8 537.60,476.0 537.85,479.1 538.10,477.0 538.35,476.8 538.60,477.9 538.85,477.9 539.10,475.4 539.35,476.4 539.60,477.4 539.85,477.4 540.10,477.7 540.35,477.0 540.60,477.1 540.85,477.6 541.10,476.7 541.35,476.6 541.60,476.9 541.85,477.5 542.10,477.3 542.35,477.0 542.60,477.2 542.85,477.4 543.10,477.8 543.35,477.8 543.60,476.2 543.85,478.4 544.10,475.9 544.35,478.0 544.60,476.8 544.85,478.1 545.10,478.5 545.35,475.6 545.60,478.1 545.85,477.7 546.10,477.0 546.35,477.8 546.60,477.0 546.85,477.6 547.10,476.4 547.35,478.2 547.60,478.0 547.85,478.1 548.10,476.7 548.35,479.1 548.60,479.1 548.85,477.2 549.10,476.8 549.35,476.8 549.60,477.7 549.85,477.9 550.10,476.2 550.35,474.9 550.60,476.8 550.85,476.0 551.10,475.8 551.35,475.4 551.60,473.6 551.85,473.5 552.10,472.2 552.35,471.3 552.60,470.1 552.85,468.0 553.10,465.9 553.35,464.8 553.60,462.8 553.85,461.0 554.10,459.3 554.35,458.7 554.60,458.6 554.85,459.0 555.10,459.6 555.35,461.2 555.60,462.5 555.85,464.3 556.10,466.5 556.35,468.0 556.60,469.8 556.85,471.7 557.10,473.1 557.35,473.3 557.60,474.4 557.85,474.4 558.10,474.9 558.35,476.6 558.60,476.3 558.85,475.4 559.10,477.6 559.35,476.6 559.60,477.2 559.85,477.9 560.10,478.0 560.35,477.6 560.60,475.9 560.85,478.3 561.10,477.3 561.35,476.6 561.60,475.8 561.85,479.2 562.10,478.1 562.35,478.1 562.60,478.6 562.85,478.0 563.10,476.7 563.35,478.8 563.60,479.1 563.85,478.7 564.10,479.7 564.35,480.0 564.60,477.4 564.85,477.8 565.10,479.1 565.35,478.4 565.60,478.5 565.85,479.2 566.10,479.0 566.35,477.9 566.60,478.4 566.85,477.6 567.10,478.1 567.35,477.2 567.60,476.4 567.85,477.8 568.10,477.7 568.35,479.1 568.60,479.8 568.85,478.3 569.10,478.7 569.35,477.6 569.60,477.4 569.85,477.9 570.10,477.9 570.35,478.4 570.60,478.2 570.85,479.5 571.10,477.8 571.35,476.4 571.60,477.9 571.85,477.1 572.10,477.6 572.35,478.0 572.60,476.2 572.85,476.1 573.10,475.7 573.35,473.8 573.60,473.1 573.85,471.5 574.10,469.6 574.35,467.3 574.60,464.5 574.85,461.8 575.10,458.7 575.35,456.2 575.60,454.7 575.85,454.3 576.10,453.9 576.35,454.1 576.60,455.6 576.85,457.4 577.10,458.7 577.35,461.3 577.60,462.9 577.85,465.7 578.10,467.4 578.35,470.2 578.60,470.5 578.85,472.8 579.10,473.1 579.35,475.7 579.60,476.0 579.85,477.2 580.10,477.2 580.35,476.6 580.60,477.3 580.85,477.0 581.10,477.4 581.35,478.5 581.60,479.5 581.85,479.4 582.10,479.2 582.35,478.2 582.60,479.3 582.85,478.1 583.10,479.1 583.35,479.8 583.60,478.8 583.85,478.6 584.10,478.7 584.35,479.7 584.60,478.9 584.85,477.8 585.10,478.8 585.35,478.2 585.60,480.7 585.85,479.3 586.10,477.9 586.35,479.6 586.60,480.1 586.85,479.7 587.10,479.0 587.35,479.6 587.60,479.7 587.85,480.4 588.10,479.8 588.35,481.7 588.60,479.3 588.85,481.0 589.10,479.6 589.35,477.9 589.60,478.4 589.85,477.8 590.10,477.9 590.35,480.8 590.60,479.0 590.85,480.2 591.10,478.8 591.35,479.7 591.60,478.6 591.85,480.6 592.10,479.5 592.35,479.3 592.60,479.6 592.85,481.9 593.10,480.2 593.35,480.6 593.60,478.6 593.85,479.2 594.10,480.1 594.35,478.0 594.60,481.2 594.85,480.1 595.10,479.9 595.35,479.7 595.60,479.7 595.85,479.4 596.10,481.3 596.35,480.6 596.60,481.2 596.85,479.7 597.10,479.1 597.35,481.4 597.60,478.8 597.85,479.4 598.10,480.7 598.35,481.1 598.60,478.7 598.85,479.8 599.10,480.1 599.35,479.9 599.60,479.2 599.85,480.8 600.10,479.6 600.35,479.9 600.60,477.8 600.85,480.0 601.10,478.1 601.35,480.8 601.60,480.6 601.85,479.6 602.10,480.2 602.35,480.2 602.60,479.9 602.85,480.4 603.10,479.9 603.35,479.6 603.60,479.2 603.85,481.7 604.10,480.2 604.35,480.0 604.60,480.7 604.85,479.6 605.10,479.6 605.35,480.7 605.60,481.0 605.85,480.7 606.10,478.5 606.35,480.0 606.60,479.9 606.85,480.4 607.10,479.1 607.35,478.9 607.60,479.8 607.85,479.0 608.10,478.9 608.35,479.9 608.60,480.9 608.85,480.1 609.10,481.0 609.35,478.9 609.60,480.6 609.85,479.9 610.10,479.0 610.35,479.5 610.60,479.0 610.85,479.7 611.10,479.1 611.35,481.1 611.60,479.5 611.85,478.4 612.10,479.6 612.35,480.2 612.60,479.5 612.85,480.7 613.10,478.9 613.35,479.0 613.60,481.4 613.85,479.8 614.10,480.3 614.35,480.3 614.60,480.4 614.85,479.8 615.10,479.6 615.35,480.9 615.60,479.3 615.85,479.9 616.10,480.4 616.35,479.3 616.60,478.2 616.85,480.2 617.10,480.8 617.35,480.0 617.60,478.0 617.85,480.4 618.10,481.7 618.35,478.2 618.60,477.4 618.85,479.4 619.10,479.8 619.35,480.5 619.60,480.5 619.85,479.8 620.10,480.2 620.35,480.0 620.60,479.8 620.85,479.6 621.10,479.5 621.35,480.3 621.60,480.0 621.85,479.2 622.10,480.7 622.35,478.9 622.60,479.4 622.85,479.7 623.10,477.7 623.35,479.2 623.60,480.4 623.85,480.4 624.10,478.4 624.35,478.7 624.60,478.5 624.85,479.3 625.10,479.5 625.35,477.9 625.60,479.8 625.85,479.6 626.10,479.4 626.35,478.8 626.60,479.3 626.85,477.7 627.10,479.7 627.35,479.7 627.60,479.4 627.85,478.3 628.10,480.7 628.35,480.5 628.60,477.6 628.85,479.8 629.10,479.5 629.35,477.1 629.60,479.9 629.85,480.0 630.10,480.1 630.35,479.5 630.60,478.7 630.85,478.8 631.10,479.8 631.35,480.4 631.60,478.7 631.85,478.9 632.10,479.8 632.35,477.0 632.60,479.3 632.85,478.4 633.10,476.5 633.35,478.5 633.60,476.7 633.85,477.2 634.10,476.7 634.35,474.3 634.60,473.7 634.85,473.8 635.10,472.7 635.35,474.2 635.60,474.4 635.85,475.6 636.10,474.7 636.35,476.7 636.60,477.6 636.85,476.4 637.10,479.0 637.35,477.3 637.60,478.9 637.85,477.7 638.10,479.7 638.35,480.7 638.60,479.1 638.85,479.1 639.10,480.4 639.35,478.7 639.60,479.2 639.85,479.9 640.10,479.6 640.35,480.7 640.60,480.3 640.85,481.0 641.10,479.1 641.35,480.3 641.60,478.4 641.85,480.1 642.10,480.9 642.35,481.4 642.60,477.9 642.85,479.0 643.10,479.9 643.35,478.3 643.60,479.7 643.85,479.7 644.10,478.7 644.35,478.6 644.60,478.2 644.85,479.5 645.10,480.4 645.35,479.4 645.60,481.4 645.85,477.7 646.10,478.6 646.35,479.8 646.60,478.0 646.85,479.5 647.10,479.9 647.35,479.3 647.60,478.9 647.85,480.0 648.10,479.5 648.35,479.8 648.60,479.6 648.85,478.4 649.10,478.0 649.35,478.7 649.60,479.2 649.85,478.9 650.10,480.0 650.35,479.3 650.60,480.0 650.85,479.2 651.10,478.3 651.35,479.9 651.60,479.5 651.85,478.2 652.10,478.6 652.35,481.3 652.60,476.6 652.85,480.1 653.10,479.1 653.35,478.9 653.60,478.7 653.85,478.5 654.10,481.3 654.35,478.5 654.60,478.7 654.85,479.8 655.10,479.3 655.35,478.8 655.60,478.7 655.85,477.6 656.10,480.0 656.35,477.9 656.60,476.6 656.85,480.0 657.10,479.7 657.35,479.3 657.60,478.4 657.85,480.1 658.10,477.8 658.35,476.7 658.60,479.1 658.85,479.7 659.10,479.5 659.35,481.0 659.60,479.7 659.85,478.7 660.10,478.7 660.35,479.8 660.60,478.8 660.85,478.7 661.10,477.1 661.35,478.6 661.60,477.6 661.85,479.1 662.10,479.0 662.35,479.6 662.60,480.7 662.85,478.7 663.10,480.3 663.35,477.7 663.60,479.0 663.85,479.8 664.10,480.8 664.35,477.7 664.60,478.6 664.85,479.0 665.10,478.7 665.35,477.9 665.60,477.2 665.85,477.6 666.10,478.7 666.35,477.5 666.60,480.6 666.85,480.0 667.10,476.9 667.35,478.3 667.60,480.1 667.85,480.3 668.10,479.9 668.35,477.3 668.60,478.4 668.85,480.1 669.10,478.9 669.35,478.3 669.60,479.3 669.85,479.8 670.10,478.9 670.35,479.0 670.60,479.8 670.85,478.2 671.10,477.8 671.35,479.5 671.60,477.5 671.85,479.2 672.10,478.0 672.35,479.6 672.60,477.5 672.85,479.9 673.10,479.0 673.35,478.4 673.60,477.9 673.85,478.6 674.10,477.8 674.35,477.5 674.60,479.8 674.85,479.3 675.10,479.9 675.35,477.3 675.60,476.7 675.85,477.1 676.10,479.3 676.35,479.5 676.60,476.8 676.85,479.7 677.10,478.2 677.35,477.5 677.60,478.6 677.85,479.2 678.10,478.4 678.35,478.5 678.60,477.8 678.85,477.2 679.10,478.3 679.35,477.0 679.60,479.2 679.85,477.8 680.10,479.9 680.35,477.0 680.60,480.0 680.85,477.7 681.10,477.7 681.35,478.9 681.60,479.5 681.85,478.5 682.10,478.2 682.35,480.6 682.60,479.1 682.85,477.3 683.10,478.3 683.35,480.2 683.60,478.9 683.85,479.3 684.10,480.5 684.35,477.9 684.60,478.9 684.85,477.8 685.10,478.5 685.35,479.0 685.60,477.1 685.85,478.5 686.10,478.5 686.35,479.4 686.60,477.7 686.85,477.0 687.10,478.5 687.35,477.0 687.60,478.2 687.85,478.4 688.10,477.0 688.35,477.5 688.60,476.6 688.85,475.4 689.10,475.9 689.35,475.2 689.60,476.7 689.85,475.6 690.10,476.1 690.35,476.0 690.60,476.6 690.85,475.4 691.10,475.2 691.35,475.7 691.60,476.4 691.85,475.2 692.10,475.5 692.35,475.3 692.60,475.0 692.85,474.6 693.10,475.8 693.35,475.9 693.60,476.1 693.85,478.0 694.10,476.4 694.35,477.2 694.60,476.8 694.85,478.3 695.10,477.2 695.35,479.2 695.60,477.5 695.85,478.5 696.10,478.9 696.35,477.8 696.60,478.9 696.85,478.2 697.10,477.4 697.35,477.6 697.60,478.6 697.85,480.0 698.10,477.8 698.35,478.8 698.60,477.5 698.85,478.6 699.10,477.0 699.35,477.5 699.60,478.3 699.85,477.6 700.10,478.0 700.35,479.3 700.60,478.2 700.85,477.6 701.10,477.1 701.35,477.8 701.60,479.4 701.85,478.2 702.10,478.1 702.35,479.0 702.60,479.1 702.85,479.3 703.10,477.9 703.35,477.4 703.60,476.6 703.85,477.6 704.10,477.9 704.35,479.0 704.60,478.6 704.85,477.7 705.10,479.1 705.35,477.0 705.60,477.2 705.85,477.0 706.10,477.1 706.35,477.9 706.60,477.3 706.85,477.4 707.10,479.5 707.35,476.7 707.60,477.1 707.85,477.9 708.10,478.5 708.35,478.6 708.60,477.8 708.85,477.7 709.10,477.8 709.35,478.8 709.60,477.1 709.85,475.8 710.10,478.2 710.35,476.8 710.60,477.9 710.85,479.3 711.10,478.0 711.35,479.7 711.60,476.4 711.85,478.1 712.10,478.2 712.35,478.6 712.60,477.1 712.85,477.9 713.10,477.8 713.35,477.7 713.60,476.3 713.85,475.9 714.10,477.9 714.35,477.6 714.60,477.1 714.85,477.5 715.10,477.6 715.35,475.5 715.60,476.6 715.85,476.6 716.10,475.6 716.35,474.6 716.60,473.8 716.85,471.7 717.10,471.1 717.35,470.6 717.60,469.5 717.85,467.7 718.10,466.1 718.35,465.0 718.60,464.3 718.85,463.8 719.10,463.0 719.35,462.5 719.60,463.1 719.85,463.6 720.10,465.1 720.35,465.7 720.60,466.8 720.85,468.0 721.10,468.8 721.35,470.1 721.60,471.5 721.85,472.3 722.10,473.7 722.35,474.5 722.60,475.7 722.85,476.7 723.10,476.2 723.35,476.2 723.60,475.1 723.85,477.2 724.10,477.6 724.35,476.5 724.60,476.9 724.85,476.7 725.10,478.4 725.35,478.0 725.60,478.6 725.85,476.4 726.10,479.7 726.35,476.8 726.60,476.6 726.85,477.8 727.10,477.1 727.35,479.4 727.60,477.3 727.85,477.0 728.10,478.6 728.35,478.9 728.60,476.9 728.85,477.2 729.10,477.3 729.35,477.5 729.60,479.4 729.85,478.9 730.10,478.7 730.35,478.9 730.60,477.7 730.85,478.6 731.10,477.6 731.35,477.0 731.60,479.3 731.85,476.0 732.10,477.7 732.35,477.1 732.60,476.1 732.85,477.3 733.10,477.8 733.35,478.1 733.60,476.9 733.85,478.4 734.10,478.0 734.35,478.5 734.60,475.8 734.85,477.2 735.10,477.0 735.35,478.2 735.60,476.9 735.85,477.1 736.10,476.5 736.35,476.4 736.60,476.7 736.85,478.6 737.10,476.6 737.35,475.3 737.60,477.9 737.85,477.1 738.10,478.1 738.35,478.1 738.60,477.3 738.85,477.1 739.10,477.0 739.35,477.5 739.60,476.8 739.85,477.7 740.10,478.9 740.35,476.9 740.60,476.9 740.85,476.9 741.10,478.1 741.35,478.1 741.60,478.9 741.85,478.2 742.10,477.6 742.35,477.9 742.60,476.2 742.85,478.0 743.10,477.6 743.35,479.4 743.60,478.7 743.85,476.6 744.10,476.8 744.35,478.2 744.60,475.4 744.85,476.5 745.10,477.7 745.35,477.9 745.60,477.5 745.85,478.4 746.10,477.0 746.35,477.3 746.60,477.1 746.85,476.2 747.10,477.2 747.35,476.7 747.60,477.2 747.85,475.0 748.10,477.2 748.35,476.6 748.60,476.5 748.85,477.1 749.10,476.6 749.35,477.8 749.60,478.1 749.85,477.7 750.10,477.7 750.35,477.1 750.60,476.7 750.85,475.5 751.10,476.3 751.35,477.6 751.60,477.1 751.85,475.9 752.10,476.2 752.35,476.8 752.60,475.6 752.85,476.7 753.10,474.6 753.35,475.3 753.60,474.8 753.85,473.8 754.10,473.2 754.35,472.5 754.60,470.1 754.85,470.3 755.10,469.3 755.35,467.5 755.60,466.2 755.85,463.9 756.10,462.6 756.35,461.0 756.60,459.3 756.85,458.2 757.10,456.9 757.35,455.8 757.60,455.7 757.85,455.8 758.10,456.0 758.35,457.1 758.60,458.3 758.85,459.7 759.10,460.9 759.35,463.2 759.60,464.7 759.85,466.1 760.10,467.7 760.35,469.1 760.60,470.0 760.85,471.0 761.10,472.3 761.35,472.7 761.60,473.4 761.85,473.5 762.10,474.5 762.35,475.8 762.60,475.5 762.85,475.7 763.10,475.6 763.35,475.6 763.60,474.8 763.85,477.6 764.10,475.6 764.35,475.0 764.60,476.8 764.85,476.7 765.10,476.0 765.35,475.2 765.60,475.3 765.85,478.0 766.10,476.5 766.35,476.1 766.60,478.4 766.85,476.2 767.10,475.9 767.35,477.2 767.60,477.1 767.85,478.2 768.10,475.3 768.35,477.1 768.60,475.2 768.85,477.2 769.10,476.2 769.35,476.4 769.60,476.1 769.85,477.6 770.10,478.4 770.35,476.8 770.60,476.6 770.85,476.4 771.10,477.4 771.35,475.9 771.60,479.1 771.85,476.7 772.10,478.6 772.35,477.1 772.60,475.6 772.85,475.4 773.10,476.5 773.35,476.3 773.60,476.7 773.85,475.8 774.10,479.2 774.35,479.0 774.60,475.2 774.85,477.5 775.10,478.2 775.35,476.7 775.60,476.8 775.85,478.1 776.10,477.5 776.35,475.8 776.60,478.2 776.85,476.5 777.10,478.8 777.35,476.1 777.60,474.8 777.85,477.1 778.10,478.2 778.35,477.5 778.60,477.2 778.85,476.1 779.10,477.9 779.35,475.2 779.60,477.8 779.85,475.8 780.10,476.4 780.35,475.7 780.60,476.1 780.85,478.5 781.10,475.9 781.35,477.2 781.60,476.2 781.85,478.0 782.10,475.7 782.35,477.0 782.60,477.9 782.85,479.2 783.10,475.8 783.35,476.1 783.60,476.9 783.85,478.4 784.10,476.0 784.35,477.8 784.60,476.4 784.85,476.0 785.10,475.4 785.35,477.1 785.60,477.9 785.85,476.8 786.10,474.9 786.35,476.4 786.60,477.8 786.85,477.7 787.10,477.1 787.35,478.3 787.60,475.6 787.85,475.7 788.10,479.0 788.35,477.4 788.60,476.6 788.85,476.3 789.10,474.7 789.35,477.5 789.60,474.8 789.85,474.8 790.10,476.6 790.35,477.9 790.60,476.1 790.85,476.8 791.10,476.0 791.35,476.7 791.60,474.8 791.85,477.9 792.10,475.1 792.35,476.2 792.60,473.9 792.85,476.5 793.10,475.1 793.35,475.6 793.60,473.2 793.85,473.3 794.10,471.6 794.35,470.5 794.60,469.6 794.85,467.1 795.10,465.9 795.35,464.3 795.60,462.1 795.85,459.8 796.10,457.6 796.35,455.6 796.60,454.7 796.85,453.3 797.10,453.2 797.35,453.0 797.60,453.6 797.85,454.5 798.10,455.9 798.35,457.2 798.60,459.0 798.85,460.6 799.10,462.7 799.35,464.5 799.60,466.3 799.85,467.4 800.10,469.4 800.35,470.5 800.60,472.0 800.85,472.7 801.10,472.8 801.35,474.6 801.60,474.2 801.85,475.3 802.10,473.9 802.35,476.1 802.60,476.5 802.85,475.4 803.10,476.8 803.35,476.1 803.60,477.7 803.85,477.2 804.10,475.5 804.35,476.5 804.60,475.1 804.85,476.5 805.10,477.3 805.35,477.6 805.60,476.8 805.85,476.7 806.10,477.1 806.35,476.4 806.60,477.3 806.85,478.0 807.10,477.2 807.35,477.8 807.60,476.3 807.85,476.6 808.10,477.4 808.35,478.9 808.60,478.0 808.85,478.6 809.10,477.0 809.35,478.1 809.60,475.4 809.85,477.3 810.10,474.9 810.35,477.7 810.60,476.9 810.85,477.3 811.10,476.5 811.35,475.6 811.60,475.1 811.85,475.6 812.10,476.2 812.35,475.2 812.60,474.0 812.85,473.6 813.10,473.2 813.35,473.1 813.60,472.8 813.85,472.2 814.10,472.1 814.35,471.1 814.60,472.5 814.85,471.7 815.10,472.4 815.35,471.9 815.60,471.8 815.85,472.2 816.10,472.6 816.35,472.5 816.60,473.0 816.85,474.8 817.10,474.6 817.35,474.1 817.60,475.2 817.85,474.6 818.10,476.6 818.35,475.1 818.60,476.8 818.85,476.4 819.10,476.6 819.35,476.1 819.60,476.7 819.85,476.4 820.10,476.4 820.35,477.6 820.60,479.3 820.85,477.0 821.10,478.3 821.35,477.4 821.60,476.8 821.85,478.7 822.10,478.1 822.35,478.5 822.60,477.6 822.85,477.6 823.10,476.7 823.35,477.2 823.60,478.9 823.85,475.3 824.10,477.6 824.35,478.4 824.60,477.7 824.85,477.6 825.10,476.5 825.35,477.4 825.60,477.2 825.85,476.1 826.10,477.0 826.35,475.2 826.60,473.6 826.85,474.9 827.10,474.5 827.35,473.7 827.60,473.6 827.85,473.2 828.10,472.3 828.35,473.7 828.60,472.9 828.85,474.0 829.10,472.8 829.35,473.1 829.60,472.2 829.85,473.8 830.10,472.9 830.35,474.2 830.60,474.7 830.85,475.0 831.10,474.3 831.35,474.7 831.60,476.1 831.85,476.7 832.10,477.2 832.35,476.4 832.60,476.5 832.85,478.3 833.10,476.5 833.35,477.8 833.60,477.0 833.85,476.1 834.10,476.5 834.35,477.9 834.60,477.8 834.85,478.1 835.10,477.3 835.35,477.2 835.60,477.9 835.85,477.5 836.10,476.2 836.35,477.3 836.60,479.2 836.85,477.0 837.10,478.2 837.35,477.6 837.60,478.3 837.85,476.9 838.10,476.5 838.35,478.0 838.60,476.9 838.85,477.5 839.10,477.2 839.35,478.3 839.60,477.6 839.85,477.5 840.10,476.4 840.35,475.9 840.60,476.4 840.85,477.6 841.10,477.3 841.35,477.0 841.60,476.0 841.85,475.2 842.10,476.3 842.35,475.1 842.60,474.7 842.85,473.1 843.10,472.3 843.35,471.9 843.60,470.6 843.85,468.5 844.10,467.3 844.35,465.1 844.60,464.0 844.85,462.0 845.10,460.5 845.35,458.6 845.60,456.6 845.85,455.7 846.10,454.9 846.35,454.8 846.60,455.4 846.85,456.1 847.10,457.4 847.35,458.6 847.60,460.9 847.85,462.6 848.10,464.6 848.35,466.6 848.60,468.0 848.85,469.8 849.10,470.6 849.35,472.5 849.60,473.1 849.85,473.7 850.10,474.6 850.35,474.4 850.60,475.4 850.85,475.9 851.10,476.5 851.35,476.7 851.60,476.4 851.85,476.9 852.10,475.5 852.35,477.4 852.60,477.8 852.85,478.1 853.10,478.4 853.35,477.4 853.60,477.5 853.85,477.2 854.10,477.3 854.35,477.8 854.60,478.9 854.85,476.3 855.10,477.3 855.35,478.0 855.60,476.9 855.85,478.1 856.10,476.6 856.35,477.5 856.60,476.4 856.85,478.0 857.10,477.1 857.35,478.2 857.60,477.4 857.85,476.9 858.10,477.3 858.35,477.7 858.60,477.5 858.85,477.3 859.10,477.2 859.35,477.4 859.60,478.0 859.85,476.8 860.10,477.4 860.35,476.0 860.60,477.5 860.85,476.9 861.10,476.1 861.35,475.8 861.60,474.6 861.85,475.3 862.10,474.6 862.35,473.3 862.60,473.1 862.85,472.7 863.10,471.5 863.35,470.3 863.60,468.6 863.85,467.6 864.10,465.6 864.35,464.0 864.60,462.3 864.85,459.2 865.10,457.4 865.35,455.3 865.60,453.1 865.85,451.4 866.10,449.4 866.35,448.3 866.60,447.1 866.85,446.5 867.10,446.3 867.35,447.0 867.60,447.9 867.85,449.4 868.10,451.0 868.35,453.1 868.60,455.1 868.85,457.3 869.10,459.0 869.35,461.5 869.60,463.7 869.85,465.1 870.10,466.7 870.35,468.7 870.60,470.3 870.85,470.7 871.10,472.7 871.35,474.0 871.60,474.2 871.85,475.1 872.10,475.8 872.35,475.6 872.60,476.8 872.85,477.1 873.10,476.1 873.35,477.6 873.60,478.1 873.85,476.8 874.10,478.4 874.35,477.6 874.60,476.9 874.85,477.2 875.10,477.4 875.35,478.6 875.60,477.9 875.85,478.0 876.10,477.3 876.35,478.5 876.60,477.4 876.85,477.9 877.10,479.1 877.35,479.2 877.60,478.2 877.85,478.6 878.10,479.2 878.35,478.7 878.60,479.9 878.85,480.0 879.10,478.8 879.35,477.8 879.60,478.8 879.85,480.2 880.10,480.0 880.35,480.0 880.60,480.0 880.85,478.5 881.10,479.3 881.35,480.0 881.60,479.3 881.85,479.8 882.10,478.1 882.35,477.9 882.60,480.9 882.85,479.8 883.10,479.6 883.35,480.5 883.60,481.2 883.85,481.3 884.10,476.9 884.35,479.5 884.60,480.1 884.85,477.3 885.10,477.4 885.35,479.0 885.60,480.9 885.85,480.0 886.10,481.2 886.35,479.4 886.60,480.2 886.85,480.6 887.10,479.6 887.35,479.1 887.60,479.3 887.85,476.9 888.10,479.5 888.35,477.4 888.60,478.4 888.85,479.8 889.10,479.5 889.35,477.2 889.60,479.7 889.85,479.9 890.10,479.3 890.35,479.8 890.60,479.7 890.85,477.5 891.10,478.9 891.35,478.9 891.60,478.0 891.85,479.1 892.10,478.3 892.35,479.1 892.60,478.3 892.85,480.1 893.10,481.3 893.35,478.6 893.60,479.2 893.85,479.2 894.10,479.6 894.35,479.0 894.60,476.9 894.85,479.5 895.10,479.0 895.35,478.1 895.60,478.9 895.85,478.6 896.10,479.3 896.35,478.8 896.60,478.8 896.85,479.2 897.10,479.3 897.35,479.1 897.60,480.2 897.85,479.3 898.10,478.3 898.35,480.8 898.60,479.2 898.85,480.6 899.10,478.0 899.35,479.6 899.60,480.7 899.85,480.3 900.10,479.1 900.35,478.5 900.60,478.5 900.85,478.9 901.10,478.1 901.35,478.3 901.60,478.1 901.85,478.1 902.10,479.3 902.35,477.3 902.60,479.2 902.85,479.7 903.10,478.1 903.35,478.1 903.60,479.0 903.85,479.0 904.10,479.9 904.35,477.1 904.60,478.9 904.85,480.4 905.10,479.1 905.35,480.7 905.60,481.1 905.85,478.5 906.10,480.4 906.35,479.5 906.60,479.0 906.85,478.7 907.10,478.7 907.35,478.1 907.60,478.8 907.85,479.9 908.10,480.2 908.35,478.6 908.60,479.5 908.85,479.4 909.10,476.7 909.35,479.6 909.60,477.7 909.85,477.8 910.10,479.7 910.35,480.5 910.60,477.8 910.85,478.0 911.10,478.0 911.35,478.4 911.60,478.5 911.85,478.1 912.10,477.3 912.35,480.6 912.60,478.4 912.85,478.1 913.10,479.7 913.35,478.5 913.60,479.9 913.85,479.6 914.10,479.7 914.35,478.4 914.60,479.4 914.85,477.3 915.10,477.5 915.35,478.8 915.60,478.5 915.85,480.0 916.10,478.5 916.35,477.0 916.60,478.8 916.85,478.4 917.10,478.9 917.35,477.6 917.60,477.9 917.85,478.7 918.10,479.4 918.35,479.0 918.60,479.3 918.85,477.3 919.10,478.4 919.35,478.8 919.60,479.5 919.85,478.8 920.10,478.3 920.35,478.4 920.60,478.4 920.85,477.2 921.10,478.5 921.35,479.2 921.60,479.1 921.85,476.7 922.10,478.4 922.35,477.0 922.60,479.4 922.85,478.8 923.10,478.9 923.35,477.7 923.60,476.5 923.85,477.3 924.10,477.8 924.35,476.8 924.60,477.2 924.85,479.5 925.10,476.8 925.35,478.3 925.60,476.2 925.85,477.9 926.10,478.3 926.35,477.9 926.60,478.3 926.85,478.7 927.10,476.1 927.35,477.2 927.60,477.2 927.85,477.0 928.10,477.7 928.35,476.5 928.60,477.0 928.85,476.7 929.10,475.8 929.35,475.9 929.60,474.8 929.85,475.2 930.10,474.9 930.35,474.5 930.60,474.0 930.85,474.6 931.10,473.7 931.35,474.7 931.60,473.8 931.85,473.2 932.10,472.3 932.35,472.7 932.60,472.0 932.85,471.6 933.10,470.7 933.35,471.0 933.60,470.4 933.85,469.7 934.10,469.1 934.35,468.7 934.60,467.6 934.85,467.2 935.10,467.1 935.35,465.7 935.60,465.7 935.85,463.7 936.10,463.4 936.35,462.3 936.60,461.3 936.85,460.1 937.10,458.6 937.35,458.2 937.60,457.4 937.85,456.4 938.10,455.4 938.35,455.9 938.60,455.4 938.85,455.8 939.10,456.6 939.35,457.3 939.60,458.0 939.85,458.8 940.10,460.5 940.35,461.6 940.60,462.5 940.85,463.5 941.10,465.1 941.35,465.7 941.60,467.9 941.85,468.5 942.10,469.2 942.35,470.4 942.60,470.3 942.85,471.7 943.10,472.1 943.35,472.2 943.60,473.2 943.85,474.3 944.10,473.6 944.35,474.7 944.60,474.2 944.85,475.6 945.10,474.5 945.35,476.4 945.60,476.6 945.85,476.9 946.10,477.8 946.35,476.7 946.60,476.7 946.85,477.2 947.10,476.5 947.35,475.4 947.60,476.0 947.85,476.1 948.10,477.3 948.35,476.6 948.60,476.9 948.85,477.7 949.10,477.5 949.35,479.0 949.60,477.3 949.85,476.6 950.10,478.5 950.35,477.1 950.60,477.4 950.85,478.4 951.10,477.7 951.35,478.2 951.60,477.0 951.85,477.3 952.10,478.2 952.35,477.2 952.60,477.3 952.85,477.6 953.10,479.1 953.35,479.1 953.60,477.9 953.85,477.8 954.10,477.1 954.35,479.0 954.60,478.2 954.85,478.7 955.10,476.5 955.35,478.6 955.60,478.0 955.85,478.5" fill="none" stroke="#ff00ff" stroke-width="2.5" stroke-linejoin="round"/>
</svg></body></html>
